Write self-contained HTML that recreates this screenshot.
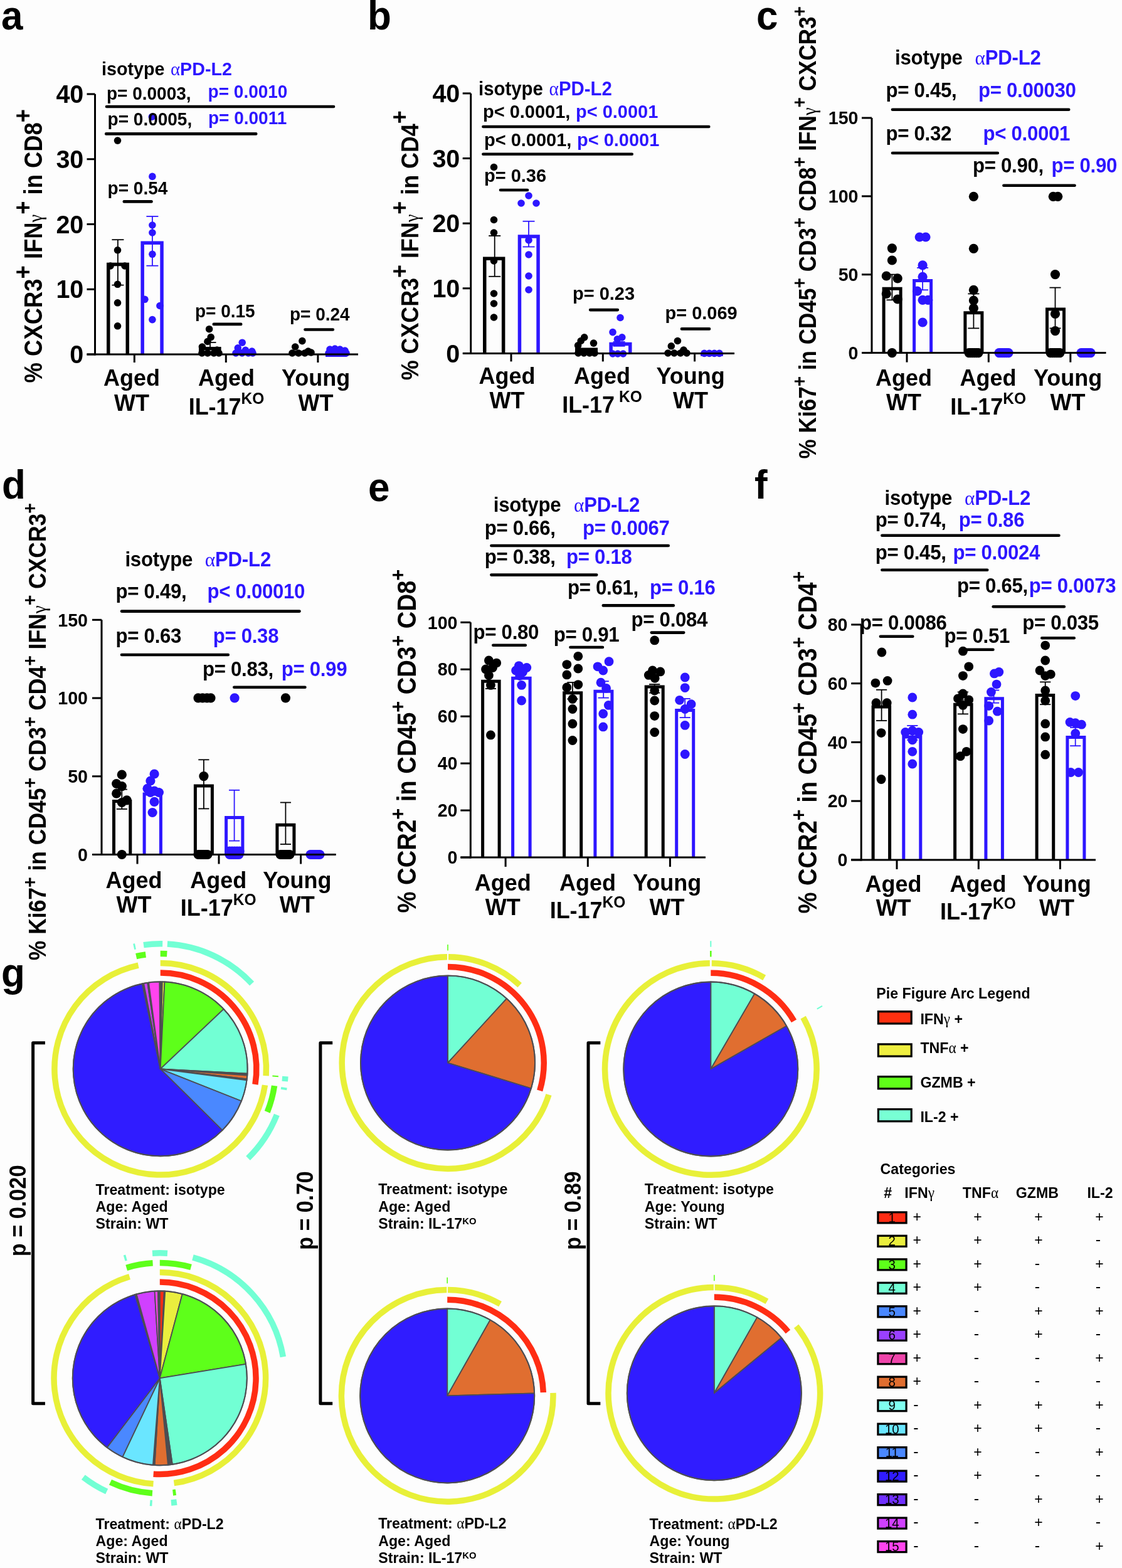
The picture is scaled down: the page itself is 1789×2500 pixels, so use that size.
<!DOCTYPE html>
<html><head><meta charset="utf-8"><title>Figure</title>
<style>html,body{margin:0;padding:0;background:#fdfdfd;} svg{display:block;} text{font-family:'Liberation Sans', Arial, sans-serif;}</style>
</head><body>
<svg width="1789" height="2500" viewBox="0 0 1789 2500">
<rect width="1789" height="2500" fill="#fdfdfd"/>
<path d="M172.75,565V421.46H203.25V565" fill="none" stroke="#000" stroke-width="5.5" stroke-linejoin="miter"/>
<path d="M227.15,565V387.23H258.05V565" fill="none" stroke="#2d16ff" stroke-width="5.5" stroke-linejoin="miter"/>
<path d="M319.75,565V555.72H349.85V565" fill="none" stroke="#000" stroke-width="5.5" stroke-linejoin="miter"/>
<path d="M374.75,565V563.08H402.25V565" fill="none" stroke="#2d16ff" stroke-width="5.5" stroke-linejoin="miter"/>
<path d="M464.75,565V562.04H496.25V565" fill="none" stroke="#000" stroke-width="5.5" stroke-linejoin="miter"/>
<path d="M521.75,565V566.19H550.25V565" fill="none" stroke="#2d16ff" stroke-width="5.5" stroke-linejoin="miter"/>
<circle cx="187.5" cy="224.1" r="5.8" fill="#000"/>
<circle cx="187.5" cy="398.8" r="5.8" fill="#000"/>
<circle cx="176" cy="424" r="5.8" fill="#000"/>
<circle cx="199" cy="424" r="5.8" fill="#000"/>
<circle cx="187.5" cy="453.3" r="5.8" fill="#000"/>
<circle cx="187.5" cy="482.8" r="5.8" fill="#000"/>
<circle cx="187.5" cy="519.8" r="5.8" fill="#000"/>
<circle cx="242.4" cy="186.2" r="5.8" fill="#2d16ff"/>
<circle cx="242.9" cy="281.4" r="5.8" fill="#2d16ff"/>
<circle cx="242.9" cy="359" r="5.8" fill="#2d16ff"/>
<circle cx="242.9" cy="371" r="5.8" fill="#2d16ff"/>
<circle cx="242.9" cy="405.3" r="5.8" fill="#2d16ff"/>
<circle cx="230.9" cy="477.3" r="5.8" fill="#2d16ff"/>
<circle cx="254.9" cy="487.5" r="5.8" fill="#2d16ff"/>
<circle cx="242.9" cy="509.6" r="5.8" fill="#2d16ff"/>
<circle cx="333.6" cy="524.7" r="5.8" fill="#000"/>
<circle cx="336.2" cy="537.6" r="5.8" fill="#000"/>
<circle cx="331" cy="544.5" r="5.8" fill="#000"/>
<circle cx="322.4" cy="553" r="5.8" fill="#000"/>
<circle cx="322" cy="563" r="5.8" fill="#000"/>
<circle cx="331" cy="563" r="5.8" fill="#000"/>
<circle cx="341" cy="563" r="5.8" fill="#000"/>
<circle cx="346" cy="558" r="5.8" fill="#000"/>
<circle cx="349" cy="563" r="5.8" fill="#000"/>
<circle cx="386.2" cy="546.2" r="5.8" fill="#2d16ff"/>
<circle cx="379.3" cy="554.8" r="5.8" fill="#2d16ff"/>
<circle cx="391.4" cy="558.3" r="5.8" fill="#2d16ff"/>
<circle cx="401.7" cy="560" r="5.8" fill="#2d16ff"/>
<circle cx="376" cy="563" r="5.8" fill="#2d16ff"/>
<circle cx="386" cy="563" r="5.8" fill="#2d16ff"/>
<circle cx="396" cy="563" r="5.8" fill="#2d16ff"/>
<circle cx="403" cy="563" r="5.8" fill="#2d16ff"/>
<circle cx="481.9" cy="543.6" r="5.8" fill="#000"/>
<circle cx="470.7" cy="553" r="5.8" fill="#000"/>
<circle cx="491.4" cy="560" r="5.8" fill="#000"/>
<circle cx="466" cy="563" r="5.8" fill="#000"/>
<circle cx="476" cy="563" r="5.8" fill="#000"/>
<circle cx="486" cy="563" r="5.8" fill="#000"/>
<circle cx="496" cy="562" r="5.8" fill="#000"/>
<circle cx="526" cy="557" r="5.8" fill="#2d16ff"/>
<circle cx="534" cy="556" r="5.8" fill="#2d16ff"/>
<circle cx="542" cy="557" r="5.8" fill="#2d16ff"/>
<circle cx="550" cy="559" r="5.8" fill="#2d16ff"/>
<circle cx="524" cy="563" r="5.8" fill="#2d16ff"/>
<circle cx="534" cy="563" r="5.8" fill="#2d16ff"/>
<circle cx="544" cy="563" r="5.8" fill="#2d16ff"/>
<circle cx="552" cy="563" r="5.8" fill="#2d16ff"/>
<line x1="187.9" y1="382.2" x2="187.9" y2="454.6" stroke="#000" stroke-width="1.8" stroke-linecap="butt"/>
<line x1="178.4" y1="382.2" x2="197.4" y2="382.2" stroke="#000" stroke-width="1.8" stroke-linecap="butt"/>
<line x1="178.4" y1="454.6" x2="197.4" y2="454.6" stroke="#000" stroke-width="1.8" stroke-linecap="butt"/>
<line x1="242.9" y1="345" x2="242.9" y2="423.7" stroke="#2d16ff" stroke-width="1.8" stroke-linecap="butt"/>
<line x1="233.4" y1="345" x2="252.4" y2="345" stroke="#2d16ff" stroke-width="1.8" stroke-linecap="butt"/>
<line x1="233.4" y1="423.7" x2="252.4" y2="423.7" stroke="#2d16ff" stroke-width="1.8" stroke-linecap="butt"/>
<line x1="335" y1="546" x2="335" y2="556" stroke="#000" stroke-width="1.8" stroke-linecap="butt"/>
<line x1="325.5" y1="546" x2="344.5" y2="546" stroke="#000" stroke-width="1.8" stroke-linecap="butt"/>
<line x1="325.5" y1="556" x2="344.5" y2="556" stroke="#000" stroke-width="1.8" stroke-linecap="butt"/>
<line x1="388.5" y1="558" x2="388.5" y2="562" stroke="#2d16ff" stroke-width="1.8" stroke-linecap="butt"/>
<line x1="379" y1="558" x2="398" y2="558" stroke="#2d16ff" stroke-width="1.8" stroke-linecap="butt"/>
<line x1="379" y1="562" x2="398" y2="562" stroke="#2d16ff" stroke-width="1.8" stroke-linecap="butt"/>
<line x1="151.5" y1="150" x2="151.5" y2="566.5" stroke="#000" stroke-width="3" stroke-linecap="butt"/>
<line x1="138.5" y1="565" x2="151.5" y2="565" stroke="#000" stroke-width="3" stroke-linecap="butt"/>
<text transform="translate(133.3,579.14) scale(1,1.045)" font-size="39.5" fill="#000" text-anchor="end" font-weight="bold" >0</text>
<line x1="138.5" y1="461.25" x2="151.5" y2="461.25" stroke="#000" stroke-width="3" stroke-linecap="butt"/>
<text transform="translate(133.3,475.39) scale(1,1.045)" font-size="39.5" fill="#000" text-anchor="end" font-weight="bold" >10</text>
<line x1="138.5" y1="357.5" x2="151.5" y2="357.5" stroke="#000" stroke-width="3" stroke-linecap="butt"/>
<text transform="translate(133.3,371.64) scale(1,1.045)" font-size="39.5" fill="#000" text-anchor="end" font-weight="bold" >20</text>
<line x1="138.5" y1="253.75" x2="151.5" y2="253.75" stroke="#000" stroke-width="3" stroke-linecap="butt"/>
<text transform="translate(133.3,267.89) scale(1,1.045)" font-size="39.5" fill="#000" text-anchor="end" font-weight="bold" >30</text>
<line x1="138.5" y1="150" x2="151.5" y2="150" stroke="#000" stroke-width="3" stroke-linecap="butt"/>
<text transform="translate(133.3,164.14) scale(1,1.045)" font-size="39.5" fill="#000" text-anchor="end" font-weight="bold" >40</text>
<line x1="138.5" y1="565" x2="571" y2="565" stroke="#000" stroke-width="3" stroke-linecap="butt"/>
<line x1="214.3" y1="565" x2="214.3" y2="578" stroke="#000" stroke-width="3" stroke-linecap="butt"/>
<line x1="360.3" y1="565" x2="360.3" y2="578" stroke="#000" stroke-width="3" stroke-linecap="butt"/>
<line x1="506.9" y1="565" x2="506.9" y2="578" stroke="#000" stroke-width="3" stroke-linecap="butt"/>
<text transform="translate(210,615) scale(1,1.045)" font-size="36" fill="#000" text-anchor="middle" font-weight="bold" >Aged</text>
<text transform="translate(210,654.6) scale(1,1.045)" font-size="36" fill="#000" text-anchor="middle" font-weight="bold" >WT</text>
<text transform="translate(361,615) scale(1,1.045)" font-size="36" fill="#000" text-anchor="middle" font-weight="bold" >Aged</text>
<text transform="translate(361,661) scale(1,1.045)" font-size="36" fill="#000" text-anchor="middle" font-weight="bold" >IL-17<tspan dx="0" dy="-16.2" font-size="24.5">KO</tspan></text>
<text transform="translate(503.5,615) scale(1,1.045)" font-size="36" fill="#000" text-anchor="middle" font-weight="bold" >Young</text>
<text transform="translate(503.5,654.6) scale(1,1.045)" font-size="36" fill="#000" text-anchor="middle" font-weight="bold" >WT</text>
<text transform="translate(170,159) scale(1,1.045)" font-size="28" fill="#000" text-anchor="start" font-weight="bold" letter-spacing="0">p= 0.0003,</text>
<text transform="translate(331.6,155.5) scale(1,1.045)" font-size="28" fill="#2d16ff" text-anchor="start" font-weight="bold" letter-spacing="0">p= 0.0010</text>
<text transform="translate(171.6,200.4) scale(1,1.045)" font-size="28" fill="#000" text-anchor="start" font-weight="bold" letter-spacing="0">p= 0.0005,</text>
<text transform="translate(332,198.2) scale(1,1.045)" font-size="28" fill="#2d16ff" text-anchor="start" font-weight="bold" letter-spacing="0">p= 0.0011</text>
<text transform="translate(171.6,310) scale(1,1.045)" font-size="28" fill="#000" text-anchor="start" font-weight="bold" letter-spacing="0">p= 0.54</text>
<text transform="translate(311,505.5) scale(1,1.045)" font-size="28" fill="#000" text-anchor="start" font-weight="bold" letter-spacing="0">p= 0.15</text>
<text transform="translate(462,510.5) scale(1,1.045)" font-size="28" fill="#000" text-anchor="start" font-weight="bold" letter-spacing="0">p= 0.24</text>
<line x1="170" y1="170" x2="532" y2="170" stroke="#000" stroke-width="4.6" stroke-linecap="round"/>
<line x1="169.2" y1="213.4" x2="408.2" y2="213.4" stroke="#000" stroke-width="4.6" stroke-linecap="round"/>
<line x1="197.8" y1="321.4" x2="241.5" y2="321.4" stroke="#000" stroke-width="4.6" stroke-linecap="round"/>
<line x1="340.8" y1="516.9" x2="384.2" y2="516.9" stroke="#000" stroke-width="4.6" stroke-linecap="round"/>
<line x1="486.5" y1="525.5" x2="530.8" y2="525.5" stroke="#000" stroke-width="4.6" stroke-linecap="round"/>
<text transform="translate(162,119.7) scale(1,1.045)" font-size="28.7" fill="#000" text-anchor="start" font-weight="bold" letter-spacing="0">isotype</text>
<text transform="translate(272,119.7) scale(1,1.045)" font-size="28.7" fill="#2d16ff" text-anchor="start" font-weight="bold" letter-spacing="0"><tspan font-family="'Liberation Serif', 'Times New Roman', serif" font-weight="normal">α</tspan>PD-L2</text>
<text transform="translate(67,610.4) rotate(-90) scale(1,1.045)" font-size="38.4" font-weight="bold" fill="#000" textLength="436.5" lengthAdjust="spacingAndGlyphs"><tspan letter-spacing="0"><tspan dy="-0.0">% CXCR3</tspan><tspan dy="-16.5" font-size="38.4">+</tspan><tspan dy="16.5" dx="0"> IFN</tspan><tspan dy="0.0" font-size="30.0" font-family="'Liberation Serif', 'Times New Roman', serif" font-weight="normal">γ</tspan><tspan dy="-16.5" font-size="38.4">+</tspan><tspan dy="16.5" dx="0"> in CD8</tspan><tspan dy="-16.5" font-size="38.4">+</tspan></tspan></text>
<text transform="translate(2,46.5) scale(1,1.045)" font-size="62" fill="#000" text-anchor="start" font-weight="bold" >a</text>
<path d="M772.75,563.4V412.15H802.65V563.4" fill="none" stroke="#000" stroke-width="5.5" stroke-linejoin="miter"/>
<path d="M828.45,563.4V377.05H858.05V563.4" fill="none" stroke="#2d16ff" stroke-width="5.5" stroke-linejoin="miter"/>
<path d="M919.75,563.4V557.25H950.25V563.4" fill="none" stroke="#000" stroke-width="5.5" stroke-linejoin="miter"/>
<path d="M974.15,563.4V548.45H1004.75V563.4" fill="none" stroke="#2d16ff" stroke-width="5.5" stroke-linejoin="miter"/>
<path d="M1065.75,563.4V562.45H1096.25V563.4" fill="none" stroke="#000" stroke-width="5.5" stroke-linejoin="miter"/>
<path d="M1119.75,563.4V565.11H1150.25V563.4" fill="none" stroke="#2d16ff" stroke-width="5.5" stroke-linejoin="miter"/>
<circle cx="787.5" cy="266.5" r="5.8" fill="#000"/>
<circle cx="787.5" cy="350.5" r="5.8" fill="#000"/>
<circle cx="787.5" cy="371" r="5.8" fill="#000"/>
<circle cx="787.5" cy="416" r="5.8" fill="#000"/>
<circle cx="787.5" cy="468" r="5.8" fill="#000"/>
<circle cx="787.5" cy="484" r="5.8" fill="#000"/>
<circle cx="787.5" cy="506" r="5.8" fill="#000"/>
<circle cx="843" cy="312" r="5.8" fill="#2d16ff"/>
<circle cx="831" cy="324" r="5.8" fill="#2d16ff"/>
<circle cx="855" cy="324" r="5.8" fill="#2d16ff"/>
<circle cx="843" cy="383" r="5.8" fill="#2d16ff"/>
<circle cx="843" cy="406" r="5.8" fill="#2d16ff"/>
<circle cx="843" cy="440" r="5.8" fill="#2d16ff"/>
<circle cx="843" cy="462" r="5.8" fill="#2d16ff"/>
<circle cx="931.7" cy="537.9" r="5.8" fill="#000"/>
<circle cx="926.2" cy="543.5" r="5.8" fill="#000"/>
<circle cx="946.5" cy="547.1" r="5.8" fill="#000"/>
<circle cx="921.6" cy="550.8" r="5.8" fill="#000"/>
<circle cx="922" cy="563" r="5.8" fill="#000"/>
<circle cx="931" cy="563" r="5.8" fill="#000"/>
<circle cx="940" cy="563" r="5.8" fill="#000"/>
<circle cx="948" cy="563" r="5.8" fill="#000"/>
<circle cx="989" cy="506.5" r="5.8" fill="#2d16ff"/>
<circle cx="977" cy="529.6" r="5.8" fill="#2d16ff"/>
<circle cx="991.8" cy="537.9" r="5.8" fill="#2d16ff"/>
<circle cx="984.4" cy="540.7" r="5.8" fill="#2d16ff"/>
<circle cx="977" cy="564" r="5.8" fill="#2d16ff"/>
<circle cx="985" cy="564" r="5.8" fill="#2d16ff"/>
<circle cx="993.6" cy="564" r="5.8" fill="#2d16ff"/>
<circle cx="1080.4" cy="543.5" r="5.8" fill="#000"/>
<circle cx="1070.3" cy="551.8" r="5.8" fill="#000"/>
<circle cx="1090" cy="558" r="5.8" fill="#000"/>
<circle cx="1065" cy="563" r="5.8" fill="#000"/>
<circle cx="1075" cy="563" r="5.8" fill="#000"/>
<circle cx="1085" cy="563" r="5.8" fill="#000"/>
<circle cx="1095" cy="563" r="5.8" fill="#000"/>
<circle cx="1123" cy="563.4" r="5.8" fill="#2d16ff"/>
<circle cx="1131" cy="563.4" r="5.8" fill="#2d16ff"/>
<circle cx="1139" cy="563.4" r="5.8" fill="#2d16ff"/>
<circle cx="1147" cy="563.4" r="5.8" fill="#2d16ff"/>
<line x1="788.7" y1="376" x2="788.7" y2="440.8" stroke="#000" stroke-width="1.8" stroke-linecap="butt"/>
<line x1="779.2" y1="376" x2="798.2" y2="376" stroke="#000" stroke-width="1.8" stroke-linecap="butt"/>
<line x1="779.2" y1="440.8" x2="798.2" y2="440.8" stroke="#000" stroke-width="1.8" stroke-linecap="butt"/>
<line x1="843" y1="352.8" x2="843" y2="393.5" stroke="#2d16ff" stroke-width="1.8" stroke-linecap="butt"/>
<line x1="833.5" y1="352.8" x2="852.5" y2="352.8" stroke="#2d16ff" stroke-width="1.8" stroke-linecap="butt"/>
<line x1="833.5" y1="393.5" x2="852.5" y2="393.5" stroke="#2d16ff" stroke-width="1.8" stroke-linecap="butt"/>
<line x1="987.1" y1="545" x2="987.1" y2="551.8" stroke="#2d16ff" stroke-width="1.8" stroke-linecap="butt"/>
<line x1="977.6" y1="545" x2="996.6" y2="545" stroke="#2d16ff" stroke-width="1.8" stroke-linecap="butt"/>
<line x1="977.6" y1="551.8" x2="996.6" y2="551.8" stroke="#2d16ff" stroke-width="1.8" stroke-linecap="butt"/>
<line x1="750.7" y1="148.9" x2="750.7" y2="564.9" stroke="#000" stroke-width="3" stroke-linecap="butt"/>
<line x1="737.7" y1="563.4" x2="750.7" y2="563.4" stroke="#000" stroke-width="3" stroke-linecap="butt"/>
<text transform="translate(733.3,577.54) scale(1,1.045)" font-size="39.5" fill="#000" text-anchor="end" font-weight="bold" >0</text>
<line x1="737.7" y1="459.77" x2="750.7" y2="459.77" stroke="#000" stroke-width="3" stroke-linecap="butt"/>
<text transform="translate(733.3,473.92) scale(1,1.045)" font-size="39.5" fill="#000" text-anchor="end" font-weight="bold" >10</text>
<line x1="737.7" y1="356.15" x2="750.7" y2="356.15" stroke="#000" stroke-width="3" stroke-linecap="butt"/>
<text transform="translate(733.3,370.29) scale(1,1.045)" font-size="39.5" fill="#000" text-anchor="end" font-weight="bold" >20</text>
<line x1="737.7" y1="252.52" x2="750.7" y2="252.52" stroke="#000" stroke-width="3" stroke-linecap="butt"/>
<text transform="translate(733.3,266.67) scale(1,1.045)" font-size="39.5" fill="#000" text-anchor="end" font-weight="bold" >30</text>
<line x1="737.7" y1="148.9" x2="750.7" y2="148.9" stroke="#000" stroke-width="3" stroke-linecap="butt"/>
<text transform="translate(733.3,163.04) scale(1,1.045)" font-size="39.5" fill="#000" text-anchor="end" font-weight="bold" >40</text>
<line x1="738.9" y1="563.4" x2="1171" y2="563.4" stroke="#000" stroke-width="3" stroke-linecap="butt"/>
<line x1="815" y1="563.4" x2="815" y2="576.4" stroke="#000" stroke-width="3" stroke-linecap="butt"/>
<line x1="961.3" y1="563.4" x2="961.3" y2="576.4" stroke="#000" stroke-width="3" stroke-linecap="butt"/>
<line x1="1107.6" y1="563.4" x2="1107.6" y2="576.4" stroke="#000" stroke-width="3" stroke-linecap="butt"/>
<text transform="translate(808.5,612) scale(1,1.045)" font-size="36" fill="#000" text-anchor="middle" font-weight="bold" >Aged</text>
<text transform="translate(808.5,651) scale(1,1.045)" font-size="36" fill="#000" text-anchor="middle" font-weight="bold" >WT</text>
<text transform="translate(960,612) scale(1,1.045)" font-size="36" fill="#000" text-anchor="middle" font-weight="bold" >Aged</text>
<text transform="translate(960,658) scale(1,1.045)" font-size="36" fill="#000" text-anchor="middle" font-weight="bold" >IL-17<tspan dx="7" dy="-16.2" font-size="24.5">KO</tspan></text>
<text transform="translate(1101,612) scale(1,1.045)" font-size="36" fill="#000" text-anchor="middle" font-weight="bold" >Young</text>
<text transform="translate(1101,651) scale(1,1.045)" font-size="36" fill="#000" text-anchor="middle" font-weight="bold" >WT</text>
<text transform="translate(770,188.4) scale(1,1.045)" font-size="29" fill="#000" text-anchor="start" font-weight="bold" letter-spacing="0">p&lt; 0.0001,</text>
<text transform="translate(918,188.4) scale(1,1.045)" font-size="29" fill="#2d16ff" text-anchor="start" font-weight="bold" letter-spacing="0">p&lt; 0.0001</text>
<text transform="translate(772,232.8) scale(1,1.045)" font-size="29" fill="#000" text-anchor="start" font-weight="bold" letter-spacing="0">p&lt; 0.0001,</text>
<text transform="translate(920,232.8) scale(1,1.045)" font-size="29" fill="#2d16ff" text-anchor="start" font-weight="bold" letter-spacing="0">p&lt; 0.0001</text>
<text transform="translate(772,290) scale(1,1.045)" font-size="29" fill="#000" text-anchor="start" font-weight="bold" letter-spacing="0">p= 0.36</text>
<text transform="translate(913,478.4) scale(1,1.045)" font-size="29" fill="#000" text-anchor="start" font-weight="bold" letter-spacing="0">p= 0.23</text>
<text transform="translate(1060.5,509) scale(1,1.045)" font-size="29" fill="#000" text-anchor="start" font-weight="bold" letter-spacing="0">p= 0.069</text>
<line x1="770.4" y1="202" x2="1130.3" y2="202" stroke="#000" stroke-width="4.6" stroke-linecap="round"/>
<line x1="770.4" y1="245.7" x2="1007.7" y2="245.7" stroke="#000" stroke-width="4.6" stroke-linecap="round"/>
<line x1="798" y1="303" x2="841" y2="303" stroke="#000" stroke-width="4.6" stroke-linecap="round"/>
<line x1="941.1" y1="494.1" x2="984.8" y2="494.1" stroke="#000" stroke-width="4.6" stroke-linecap="round"/>
<line x1="1087" y1="524.4" x2="1131" y2="524.4" stroke="#000" stroke-width="4.6" stroke-linecap="round"/>
<text transform="translate(763,151.5) scale(1,1.045)" font-size="29.4" fill="#000" text-anchor="start" font-weight="bold" letter-spacing="0">isotype</text>
<text transform="translate(875.5,151.5) scale(1,1.045)" font-size="29.4" fill="#2d16ff" text-anchor="start" font-weight="bold" letter-spacing="0"><tspan font-family="'Liberation Serif', 'Times New Roman', serif" font-weight="normal">α</tspan>PD-L2</text>
<text transform="translate(667.2,606.3) rotate(-90) scale(1,1.045)" font-size="37.5" font-weight="bold" fill="#000" textLength="430" lengthAdjust="spacingAndGlyphs"><tspan letter-spacing="0"><tspan dy="-0.0">% CXCR3</tspan><tspan dy="-16.1" font-size="37.5">+</tspan><tspan dy="16.1" dx="0"> IFN</tspan><tspan dy="0.0" font-size="30.0" font-family="'Liberation Serif', 'Times New Roman', serif" font-weight="normal">γ</tspan><tspan dy="-16.1" font-size="37.5">+</tspan><tspan dy="16.1" dx="0"> in CD4</tspan><tspan dy="-16.1" font-size="37.5">+</tspan></tspan></text>
<text transform="translate(586,47) scale(1,1.045)" font-size="62" fill="#000" text-anchor="start" font-weight="bold" >b</text>
<path d="M1409.1,562.6V460.3H1436.1V562.6" fill="none" stroke="#000" stroke-width="5" stroke-linejoin="miter"/>
<path d="M1457.6,562.6V447.5H1484.6V562.6" fill="none" stroke="#2d16ff" stroke-width="5" stroke-linejoin="miter"/>
<path d="M1538.9,562.6V498.8H1565.9V562.6" fill="none" stroke="#000" stroke-width="5" stroke-linejoin="miter"/>
<path d="M1669.5,562.6V493.1H1696.5V562.6" fill="none" stroke="#000" stroke-width="5" stroke-linejoin="miter"/>
<circle cx="1422.4" cy="395.8" r="7.6" fill="#000"/>
<circle cx="1422.4" cy="415" r="7.6" fill="#000"/>
<circle cx="1413.3" cy="440" r="7.6" fill="#000"/>
<circle cx="1431.2" cy="443.8" r="7.6" fill="#000"/>
<circle cx="1413.3" cy="468.4" r="7.6" fill="#000"/>
<circle cx="1431.2" cy="477" r="7.6" fill="#000"/>
<circle cx="1422.4" cy="562.6" r="7.6" fill="#000"/>
<circle cx="1466.2" cy="378" r="7.6" fill="#2d16ff"/>
<circle cx="1476" cy="378" r="7.6" fill="#2d16ff"/>
<circle cx="1471.1" cy="422.9" r="7.6" fill="#2d16ff"/>
<circle cx="1471.1" cy="441.3" r="7.6" fill="#2d16ff"/>
<circle cx="1462.5" cy="464.2" r="7.6" fill="#2d16ff"/>
<circle cx="1471.1" cy="478.3" r="7.6" fill="#2d16ff"/>
<circle cx="1479.8" cy="478.3" r="7.6" fill="#2d16ff"/>
<circle cx="1471.1" cy="514" r="7.6" fill="#2d16ff"/>
<circle cx="1552.4" cy="313.3" r="7.6" fill="#000"/>
<circle cx="1552.4" cy="396.3" r="7.6" fill="#000"/>
<circle cx="1552.4" cy="462.3" r="7.6" fill="#000"/>
<circle cx="1552.4" cy="479" r="7.6" fill="#000"/>
<circle cx="1552.4" cy="491.3" r="7.6" fill="#000"/>
<circle cx="1545" cy="562.6" r="7.6" fill="#000"/>
<circle cx="1548" cy="562.6" r="7.6" fill="#000"/>
<circle cx="1551" cy="562.6" r="7.6" fill="#000"/>
<circle cx="1554" cy="562.6" r="7.6" fill="#000"/>
<circle cx="1557" cy="562.6" r="7.6" fill="#000"/>
<circle cx="1560" cy="562.6" r="7.6" fill="#000"/>
<circle cx="1593" cy="562.6" r="7.6" fill="#2d16ff"/>
<circle cx="1596" cy="562.6" r="7.6" fill="#2d16ff"/>
<circle cx="1599" cy="562.6" r="7.6" fill="#2d16ff"/>
<circle cx="1602" cy="562.6" r="7.6" fill="#2d16ff"/>
<circle cx="1605" cy="562.6" r="7.6" fill="#2d16ff"/>
<circle cx="1608" cy="562.6" r="7.6" fill="#2d16ff"/>
<circle cx="1679.3" cy="313.3" r="7.6" fill="#000"/>
<circle cx="1686.7" cy="313.3" r="7.6" fill="#000"/>
<circle cx="1682.5" cy="437.6" r="7.6" fill="#000"/>
<circle cx="1682.5" cy="500.4" r="7.6" fill="#000"/>
<circle cx="1682.5" cy="527.6" r="7.6" fill="#000"/>
<circle cx="1675" cy="562.6" r="7.6" fill="#000"/>
<circle cx="1678" cy="562.6" r="7.6" fill="#000"/>
<circle cx="1681" cy="562.6" r="7.6" fill="#000"/>
<circle cx="1684" cy="562.6" r="7.6" fill="#000"/>
<circle cx="1687" cy="562.6" r="7.6" fill="#000"/>
<circle cx="1690" cy="562.6" r="7.6" fill="#000"/>
<circle cx="1724" cy="562.6" r="7.6" fill="#2d16ff"/>
<circle cx="1727" cy="562.6" r="7.6" fill="#2d16ff"/>
<circle cx="1730" cy="562.6" r="7.6" fill="#2d16ff"/>
<circle cx="1733" cy="562.6" r="7.6" fill="#2d16ff"/>
<circle cx="1736" cy="562.6" r="7.6" fill="#2d16ff"/>
<circle cx="1739" cy="562.6" r="7.6" fill="#2d16ff"/>
<line x1="1422.4" y1="437.6" x2="1422.4" y2="478.3" stroke="#000" stroke-width="1.8" stroke-linecap="butt"/>
<line x1="1413.4" y1="437.6" x2="1431.4" y2="437.6" stroke="#000" stroke-width="1.8" stroke-linecap="butt"/>
<line x1="1413.4" y1="478.3" x2="1431.4" y2="478.3" stroke="#000" stroke-width="1.8" stroke-linecap="butt"/>
<line x1="1471.1" y1="427" x2="1471.1" y2="462.3" stroke="#2d16ff" stroke-width="1.8" stroke-linecap="butt"/>
<line x1="1462.1" y1="427" x2="1480.1" y2="427" stroke="#2d16ff" stroke-width="1.8" stroke-linecap="butt"/>
<line x1="1462.1" y1="462.3" x2="1480.1" y2="462.3" stroke="#2d16ff" stroke-width="1.8" stroke-linecap="butt"/>
<line x1="1552.4" y1="468.4" x2="1552.4" y2="523.4" stroke="#000" stroke-width="1.8" stroke-linecap="butt"/>
<line x1="1543.4" y1="468.4" x2="1561.4" y2="468.4" stroke="#000" stroke-width="1.8" stroke-linecap="butt"/>
<line x1="1543.4" y1="523.4" x2="1561.4" y2="523.4" stroke="#000" stroke-width="1.8" stroke-linecap="butt"/>
<line x1="1682.5" y1="458.6" x2="1682.5" y2="523.4" stroke="#000" stroke-width="1.8" stroke-linecap="butt"/>
<line x1="1673.5" y1="458.6" x2="1691.5" y2="458.6" stroke="#000" stroke-width="1.8" stroke-linecap="butt"/>
<line x1="1673.5" y1="523.4" x2="1691.5" y2="523.4" stroke="#000" stroke-width="1.8" stroke-linecap="butt"/>
<line x1="1390" y1="188" x2="1390" y2="564.1" stroke="#000" stroke-width="3" stroke-linecap="butt"/>
<line x1="1374" y1="562.6" x2="1390" y2="562.6" stroke="#000" stroke-width="3" stroke-linecap="butt"/>
<text transform="translate(1368.5,572.84) scale(1,1.045)" font-size="28.6" fill="#000" text-anchor="end" font-weight="bold" >0</text>
<line x1="1374" y1="437.73" x2="1390" y2="437.73" stroke="#000" stroke-width="3" stroke-linecap="butt"/>
<text transform="translate(1368.5,447.97) scale(1,1.045)" font-size="28.6" fill="#000" text-anchor="end" font-weight="bold" >50</text>
<line x1="1374" y1="312.87" x2="1390" y2="312.87" stroke="#000" stroke-width="3" stroke-linecap="butt"/>
<text transform="translate(1368.5,323.11) scale(1,1.045)" font-size="28.6" fill="#000" text-anchor="end" font-weight="bold" >100</text>
<line x1="1374" y1="188" x2="1390" y2="188" stroke="#000" stroke-width="3" stroke-linecap="butt"/>
<text transform="translate(1368.5,198.24) scale(1,1.045)" font-size="28.6" fill="#000" text-anchor="end" font-weight="bold" >150</text>
<line x1="1374" y1="562.6" x2="1763.5" y2="562.6" stroke="#000" stroke-width="3" stroke-linecap="butt"/>
<line x1="1446" y1="562.6" x2="1446" y2="577.6" stroke="#000" stroke-width="3" stroke-linecap="butt"/>
<line x1="1576.3" y1="562.6" x2="1576.3" y2="577.6" stroke="#000" stroke-width="3" stroke-linecap="butt"/>
<line x1="1706.8" y1="562.6" x2="1706.8" y2="577.6" stroke="#000" stroke-width="3" stroke-linecap="butt"/>
<text transform="translate(1441,615) scale(1,1.045)" font-size="36" fill="#000" text-anchor="middle" font-weight="bold" >Aged</text>
<text transform="translate(1441,654) scale(1,1.045)" font-size="36" fill="#000" text-anchor="middle" font-weight="bold" >WT</text>
<text transform="translate(1575.6,615) scale(1,1.045)" font-size="36" fill="#000" text-anchor="middle" font-weight="bold" >Aged</text>
<text transform="translate(1575.6,661) scale(1,1.045)" font-size="36" fill="#000" text-anchor="middle" font-weight="bold" >IL-17<tspan dx="0" dy="-16.2" font-size="24.5">KO</tspan></text>
<text transform="translate(1702.5,615) scale(1,1.045)" font-size="36" fill="#000" text-anchor="middle" font-weight="bold" >Young</text>
<text transform="translate(1702.5,654) scale(1,1.045)" font-size="36" fill="#000" text-anchor="middle" font-weight="bold" >WT</text>
<text transform="translate(1412.5,155) scale(1,1.045)" font-size="31.2" fill="#000" text-anchor="start" font-weight="bold" letter-spacing="-0.3">p= 0.45,</text>
<text transform="translate(1560,155) scale(1,1.045)" font-size="31.2" fill="#2d16ff" text-anchor="start" font-weight="bold" letter-spacing="-0.3">p= 0.00030</text>
<text transform="translate(1412.5,224) scale(1,1.045)" font-size="31.2" fill="#000" text-anchor="start" font-weight="bold" letter-spacing="-0.3">p= 0.32</text>
<text transform="translate(1567.5,224) scale(1,1.045)" font-size="31.2" fill="#2d16ff" text-anchor="start" font-weight="bold" letter-spacing="-0.3">p&lt; 0.0001</text>
<text transform="translate(1551,275) scale(1,1.045)" font-size="31.2" fill="#000" text-anchor="start" font-weight="bold" letter-spacing="-0.3">p= 0.90,</text>
<text transform="translate(1676.5,275) scale(1,1.045)" font-size="31.2" fill="#2d16ff" text-anchor="start" font-weight="bold" letter-spacing="-0.3">p= 0.90</text>
<line x1="1423" y1="174.8" x2="1704.2" y2="174.8" stroke="#000" stroke-width="4.6" stroke-linecap="round"/>
<line x1="1423" y1="244" x2="1590.8" y2="244" stroke="#000" stroke-width="4.6" stroke-linecap="round"/>
<line x1="1600.4" y1="295.8" x2="1713.5" y2="295.8" stroke="#000" stroke-width="4.6" stroke-linecap="round"/>
<text transform="translate(1427,103.4) scale(1,1.045)" font-size="31.2" fill="#000" text-anchor="start" font-weight="bold" letter-spacing="-0.2">isotype</text>
<text transform="translate(1554.5,103.4) scale(1,1.045)" font-size="31.2" fill="#2d16ff" text-anchor="start" font-weight="bold" letter-spacing="-0.2"><tspan font-family="'Liberation Serif', 'Times New Roman', serif" font-weight="normal">α</tspan>PD-L2</text>
<text transform="translate(1300.8,731.4) rotate(-90) scale(1,1.045)" font-size="37" font-weight="bold" fill="#000" textLength="721.4" lengthAdjust="spacingAndGlyphs"><tspan letter-spacing="0"><tspan dy="-0.0">% Ki67</tspan><tspan dy="-14.8" font-size="29.6">+</tspan><tspan dy="14.8" dx="0"> in CD45</tspan><tspan dy="-14.8" font-size="29.6">+</tspan><tspan dy="14.8" dx="0"> CD3</tspan><tspan dy="-14.8" font-size="29.6">+</tspan><tspan dy="14.8" dx="0"> CD8</tspan><tspan dy="-14.8" font-size="29.6">+</tspan><tspan dy="14.8" dx="0"> IFN</tspan><tspan dy="0.0" font-size="30.0" font-family="'Liberation Serif', 'Times New Roman', serif" font-weight="normal">γ</tspan><tspan dy="-14.8" font-size="29.6">+</tspan><tspan dy="14.8" dx="0"> CXCR3</tspan><tspan dy="-14.8" font-size="29.6">+</tspan></tspan></text>
<text transform="translate(1206,46.5) scale(1,1.045)" font-size="62" fill="#000" text-anchor="start" font-weight="bold" >c</text>
<path d="M181.5,1362.5V1277.6H207.8V1362.5" fill="none" stroke="#000" stroke-width="5" stroke-linejoin="miter"/>
<path d="M230.1,1362.5V1266H256.4V1362.5" fill="none" stroke="#2d16ff" stroke-width="5" stroke-linejoin="miter"/>
<path d="M311.4,1362.5V1252.9H338.4V1362.5" fill="none" stroke="#000" stroke-width="5" stroke-linejoin="miter"/>
<path d="M360.6,1362.5V1303.4H386.9V1362.5" fill="none" stroke="#2d16ff" stroke-width="5" stroke-linejoin="miter"/>
<path d="M441.9,1362.5V1315.3H468.9V1362.5" fill="none" stroke="#000" stroke-width="5" stroke-linejoin="miter"/>
<circle cx="194.3" cy="1235.2" r="7.6" fill="#000"/>
<circle cx="185.7" cy="1249.5" r="7.6" fill="#000"/>
<circle cx="194.3" cy="1253.6" r="7.6" fill="#000"/>
<circle cx="185.7" cy="1265.2" r="7.6" fill="#000"/>
<circle cx="202.2" cy="1275.8" r="7.6" fill="#000"/>
<circle cx="194.3" cy="1279.5" r="7.6" fill="#000"/>
<circle cx="194.3" cy="1362.5" r="7.6" fill="#000"/>
<circle cx="246.1" cy="1234" r="7.6" fill="#2d16ff"/>
<circle cx="239.9" cy="1245" r="7.6" fill="#2d16ff"/>
<circle cx="235" cy="1257.3" r="7.6" fill="#2d16ff"/>
<circle cx="246.1" cy="1261" r="7.6" fill="#2d16ff"/>
<circle cx="253.4" cy="1263.5" r="7.6" fill="#2d16ff"/>
<circle cx="239.9" cy="1263.5" r="7.6" fill="#2d16ff"/>
<circle cx="246.1" cy="1278.3" r="7.6" fill="#2d16ff"/>
<circle cx="243.1" cy="1295.5" r="7.6" fill="#2d16ff"/>
<circle cx="316" cy="1112.8" r="7.6" fill="#000"/>
<circle cx="323" cy="1112.8" r="7.6" fill="#000"/>
<circle cx="330" cy="1112.8" r="7.6" fill="#000"/>
<circle cx="336" cy="1112.8" r="7.6" fill="#000"/>
<circle cx="324.9" cy="1237.6" r="7.6" fill="#000"/>
<circle cx="316" cy="1362.5" r="7.6" fill="#000"/>
<circle cx="319" cy="1362.5" r="7.6" fill="#000"/>
<circle cx="322" cy="1362.5" r="7.6" fill="#000"/>
<circle cx="325" cy="1362.5" r="7.6" fill="#000"/>
<circle cx="328" cy="1362.5" r="7.6" fill="#000"/>
<circle cx="331" cy="1362.5" r="7.6" fill="#000"/>
<circle cx="374.1" cy="1112.8" r="7.6" fill="#2d16ff"/>
<circle cx="366" cy="1362.5" r="7.6" fill="#2d16ff"/>
<circle cx="369" cy="1362.5" r="7.6" fill="#2d16ff"/>
<circle cx="372" cy="1362.5" r="7.6" fill="#2d16ff"/>
<circle cx="375" cy="1362.5" r="7.6" fill="#2d16ff"/>
<circle cx="378" cy="1362.5" r="7.6" fill="#2d16ff"/>
<circle cx="381" cy="1362.5" r="7.6" fill="#2d16ff"/>
<circle cx="366" cy="1357" r="7.6" fill="#2d16ff"/>
<circle cx="370" cy="1357" r="7.6" fill="#2d16ff"/>
<circle cx="374" cy="1357" r="7.6" fill="#2d16ff"/>
<circle cx="378" cy="1357" r="7.6" fill="#2d16ff"/>
<circle cx="382" cy="1357" r="7.6" fill="#2d16ff"/>
<circle cx="455.4" cy="1112.8" r="7.6" fill="#000"/>
<circle cx="447" cy="1362.5" r="7.6" fill="#000"/>
<circle cx="450" cy="1362.5" r="7.6" fill="#000"/>
<circle cx="453" cy="1362.5" r="7.6" fill="#000"/>
<circle cx="456" cy="1362.5" r="7.6" fill="#000"/>
<circle cx="459" cy="1362.5" r="7.6" fill="#000"/>
<circle cx="462" cy="1362.5" r="7.6" fill="#000"/>
<circle cx="495" cy="1362.5" r="7.6" fill="#2d16ff"/>
<circle cx="498" cy="1362.5" r="7.6" fill="#2d16ff"/>
<circle cx="501" cy="1362.5" r="7.6" fill="#2d16ff"/>
<circle cx="504" cy="1362.5" r="7.6" fill="#2d16ff"/>
<circle cx="507" cy="1362.5" r="7.6" fill="#2d16ff"/>
<circle cx="510" cy="1362.5" r="7.6" fill="#2d16ff"/>
<line x1="194.3" y1="1258.6" x2="194.3" y2="1289.9" stroke="#000" stroke-width="1.8" stroke-linecap="butt"/>
<line x1="185.7" y1="1258.6" x2="202.9" y2="1258.6" stroke="#000" stroke-width="1.8" stroke-linecap="butt"/>
<line x1="185.7" y1="1289.9" x2="202.9" y2="1289.9" stroke="#000" stroke-width="1.8" stroke-linecap="butt"/>
<line x1="324.9" y1="1211.3" x2="324.9" y2="1289.4" stroke="#000" stroke-width="1.8" stroke-linecap="butt"/>
<line x1="316.3" y1="1211.3" x2="333.5" y2="1211.3" stroke="#000" stroke-width="1.8" stroke-linecap="butt"/>
<line x1="316.3" y1="1289.4" x2="333.5" y2="1289.4" stroke="#000" stroke-width="1.8" stroke-linecap="butt"/>
<line x1="373.6" y1="1259.8" x2="373.6" y2="1340.6" stroke="#2d16ff" stroke-width="1.8" stroke-linecap="butt"/>
<line x1="365" y1="1259.8" x2="382.2" y2="1259.8" stroke="#2d16ff" stroke-width="1.8" stroke-linecap="butt"/>
<line x1="365" y1="1340.6" x2="382.2" y2="1340.6" stroke="#2d16ff" stroke-width="1.8" stroke-linecap="butt"/>
<line x1="455.4" y1="1279.5" x2="455.4" y2="1346" stroke="#000" stroke-width="1.8" stroke-linecap="butt"/>
<line x1="446.8" y1="1279.5" x2="464" y2="1279.5" stroke="#000" stroke-width="1.8" stroke-linecap="butt"/>
<line x1="446.8" y1="1346" x2="464" y2="1346" stroke="#000" stroke-width="1.8" stroke-linecap="butt"/>
<line x1="162" y1="988.3" x2="162" y2="1364" stroke="#000" stroke-width="3" stroke-linecap="butt"/>
<line x1="147" y1="1362.5" x2="162" y2="1362.5" stroke="#000" stroke-width="3" stroke-linecap="butt"/>
<text transform="translate(140,1372.74) scale(1,1.045)" font-size="28.6" fill="#000" text-anchor="end" font-weight="bold" >0</text>
<line x1="147" y1="1237.77" x2="162" y2="1237.77" stroke="#000" stroke-width="3" stroke-linecap="butt"/>
<text transform="translate(140,1248.01) scale(1,1.045)" font-size="28.6" fill="#000" text-anchor="end" font-weight="bold" >50</text>
<line x1="147" y1="1113.03" x2="162" y2="1113.03" stroke="#000" stroke-width="3" stroke-linecap="butt"/>
<text transform="translate(140,1123.27) scale(1,1.045)" font-size="28.6" fill="#000" text-anchor="end" font-weight="bold" >100</text>
<line x1="147" y1="988.3" x2="162" y2="988.3" stroke="#000" stroke-width="3" stroke-linecap="butt"/>
<text transform="translate(140,998.54) scale(1,1.045)" font-size="28.6" fill="#000" text-anchor="end" font-weight="bold" >150</text>
<line x1="147.8" y1="1362.5" x2="535.7" y2="1362.5" stroke="#000" stroke-width="3" stroke-linecap="butt"/>
<line x1="219" y1="1362.5" x2="219" y2="1377.5" stroke="#000" stroke-width="3" stroke-linecap="butt"/>
<line x1="349" y1="1362.5" x2="349" y2="1377.5" stroke="#000" stroke-width="3" stroke-linecap="butt"/>
<line x1="479.6" y1="1362.5" x2="479.6" y2="1377.5" stroke="#000" stroke-width="3" stroke-linecap="butt"/>
<text transform="translate(213.4,1416.1) scale(1,1.045)" font-size="36" fill="#000" text-anchor="middle" font-weight="bold" >Aged</text>
<text transform="translate(213.4,1454.9) scale(1,1.045)" font-size="36" fill="#000" text-anchor="middle" font-weight="bold" >WT</text>
<text transform="translate(348.2,1416.1) scale(1,1.045)" font-size="36" fill="#000" text-anchor="middle" font-weight="bold" >Aged</text>
<text transform="translate(348.2,1460.4) scale(1,1.045)" font-size="36" fill="#000" text-anchor="middle" font-weight="bold" >IL-17<tspan dx="0" dy="-16.2" font-size="24.5">KO</tspan></text>
<text transform="translate(473.8,1416.1) scale(1,1.045)" font-size="36" fill="#000" text-anchor="middle" font-weight="bold" >Young</text>
<text transform="translate(473.8,1454.9) scale(1,1.045)" font-size="36" fill="#000" text-anchor="middle" font-weight="bold" >WT</text>
<text transform="translate(184.6,954.3) scale(1,1.045)" font-size="31.2" fill="#000" text-anchor="start" font-weight="bold" letter-spacing="-0.3">p= 0.49,</text>
<text transform="translate(330.5,954.3) scale(1,1.045)" font-size="31.2" fill="#2d16ff" text-anchor="start" font-weight="bold" letter-spacing="-0.3">p&lt; 0.00010</text>
<text transform="translate(184.6,1024.5) scale(1,1.045)" font-size="31.2" fill="#000" text-anchor="start" font-weight="bold" letter-spacing="-0.3">p= 0.63</text>
<text transform="translate(339.7,1024.5) scale(1,1.045)" font-size="31.2" fill="#2d16ff" text-anchor="start" font-weight="bold" letter-spacing="-0.3">p= 0.38</text>
<text transform="translate(323,1078) scale(1,1.045)" font-size="31.2" fill="#000" text-anchor="start" font-weight="bold" letter-spacing="-0.3">p= 0.83,</text>
<text transform="translate(448.7,1078) scale(1,1.045)" font-size="31.2" fill="#2d16ff" text-anchor="start" font-weight="bold" letter-spacing="-0.3">p= 0.99</text>
<line x1="194" y1="974.6" x2="477.5" y2="974.6" stroke="#000" stroke-width="4.6" stroke-linecap="round"/>
<line x1="194" y1="1044" x2="363.8" y2="1044" stroke="#000" stroke-width="4.6" stroke-linecap="round"/>
<line x1="373.3" y1="1095.8" x2="486.4" y2="1095.8" stroke="#000" stroke-width="4.6" stroke-linecap="round"/>
<text transform="translate(199.4,902.6) scale(1,1.045)" font-size="31.2" fill="#000" text-anchor="start" font-weight="bold" letter-spacing="-0.2">isotype</text>
<text transform="translate(326.8,902.6) scale(1,1.045)" font-size="31.2" fill="#2d16ff" text-anchor="start" font-weight="bold" letter-spacing="-0.2"><tspan font-family="'Liberation Serif', 'Times New Roman', serif" font-weight="normal">α</tspan>PD-L2</text>
<text transform="translate(73,1531.2) rotate(-90) scale(1,1.045)" font-size="36.5" font-weight="bold" fill="#000" textLength="729" lengthAdjust="spacingAndGlyphs"><tspan letter-spacing="0"><tspan dy="-0.0">% Ki67</tspan><tspan dy="-14.6" font-size="29.2">+</tspan><tspan dy="14.6" dx="0"> in CD45</tspan><tspan dy="-14.6" font-size="29.2">+</tspan><tspan dy="14.6" dx="0"> CD3</tspan><tspan dy="-14.6" font-size="29.2">+</tspan><tspan dy="14.6" dx="0"> CD4</tspan><tspan dy="-14.6" font-size="29.2">+</tspan><tspan dy="14.6" dx="0"> IFN</tspan><tspan dy="0.0" font-size="30.0" font-family="'Liberation Serif', 'Times New Roman', serif" font-weight="normal">γ</tspan><tspan dy="-14.6" font-size="29.2">+</tspan><tspan dy="14.6" dx="0"> CXCR3</tspan><tspan dy="-14.6" font-size="29.2">+</tspan></tspan></text>
<text transform="translate(3,795) scale(1,1.045)" font-size="62" fill="#000" text-anchor="start" font-weight="bold" >d</text>
<path d="M769.6,1367V1086.2H796.1V1367" fill="none" stroke="#000" stroke-width="5" stroke-linejoin="miter"/>
<path d="M817.6,1367V1081.3H845.1V1367" fill="none" stroke="#2d16ff" stroke-width="5" stroke-linejoin="miter"/>
<path d="M899.6,1367V1104.7H926.7V1367" fill="none" stroke="#000" stroke-width="5" stroke-linejoin="miter"/>
<path d="M948.9,1367V1102.3H975.9V1367" fill="none" stroke="#2d16ff" stroke-width="5" stroke-linejoin="miter"/>
<path d="M1030.2,1367V1094.9H1057.2V1367" fill="none" stroke="#000" stroke-width="5" stroke-linejoin="miter"/>
<path d="M1078.7,1367V1132.5H1105.7V1367" fill="none" stroke="#2d16ff" stroke-width="5" stroke-linejoin="miter"/>
<circle cx="779.4" cy="1053" r="7.4" fill="#000"/>
<circle cx="791.7" cy="1057.1" r="7.4" fill="#000"/>
<circle cx="774.5" cy="1067" r="7.4" fill="#000"/>
<circle cx="785.6" cy="1064.5" r="7.4" fill="#000"/>
<circle cx="779.4" cy="1076.8" r="7.4" fill="#000"/>
<circle cx="782.4" cy="1092.4" r="7.4" fill="#000"/>
<circle cx="782.4" cy="1171.9" r="7.4" fill="#000"/>
<circle cx="827.4" cy="1061.6" r="7.4" fill="#2d16ff"/>
<circle cx="839.8" cy="1064.5" r="7.4" fill="#2d16ff"/>
<circle cx="822.5" cy="1069" r="7.4" fill="#2d16ff"/>
<circle cx="833.6" cy="1071.4" r="7.4" fill="#2d16ff"/>
<circle cx="828.7" cy="1077.6" r="7.4" fill="#2d16ff"/>
<circle cx="831.6" cy="1092.4" r="7.4" fill="#2d16ff"/>
<circle cx="831.6" cy="1117" r="7.4" fill="#2d16ff"/>
<circle cx="921.8" cy="1046.3" r="7.4" fill="#000"/>
<circle cx="903.8" cy="1059.6" r="7.4" fill="#000"/>
<circle cx="921.8" cy="1066" r="7.4" fill="#000"/>
<circle cx="903.8" cy="1075.9" r="7.4" fill="#000"/>
<circle cx="921.8" cy="1091.6" r="7.4" fill="#000"/>
<circle cx="903.8" cy="1096" r="7.4" fill="#000"/>
<circle cx="912.9" cy="1114.5" r="7.4" fill="#000"/>
<circle cx="912.9" cy="1130.5" r="7.4" fill="#000"/>
<circle cx="912.9" cy="1154" r="7.4" fill="#000"/>
<circle cx="912.9" cy="1180.5" r="7.4" fill="#000"/>
<circle cx="971" cy="1054.7" r="7.4" fill="#2d16ff"/>
<circle cx="953" cy="1062.8" r="7.4" fill="#2d16ff"/>
<circle cx="961.7" cy="1069" r="7.4" fill="#2d16ff"/>
<circle cx="958" cy="1088.2" r="7.4" fill="#2d16ff"/>
<circle cx="966.6" cy="1097.3" r="7.4" fill="#2d16ff"/>
<circle cx="970.3" cy="1124.4" r="7.4" fill="#2d16ff"/>
<circle cx="961.7" cy="1138" r="7.4" fill="#2d16ff"/>
<circle cx="961.7" cy="1158.9" r="7.4" fill="#2d16ff"/>
<circle cx="1043.7" cy="1020.9" r="7.4" fill="#000"/>
<circle cx="1040.5" cy="1069" r="7.4" fill="#000"/>
<circle cx="1052.8" cy="1070.9" r="7.4" fill="#000"/>
<circle cx="1034.3" cy="1076.4" r="7.4" fill="#000"/>
<circle cx="1044.2" cy="1081.3" r="7.4" fill="#000"/>
<circle cx="1043.7" cy="1101" r="7.4" fill="#000"/>
<circle cx="1043.7" cy="1117" r="7.4" fill="#000"/>
<circle cx="1043.7" cy="1141.6" r="7.4" fill="#000"/>
<circle cx="1043.7" cy="1167.5" r="7.4" fill="#000"/>
<circle cx="1092.2" cy="1080" r="7.4" fill="#2d16ff"/>
<circle cx="1092.2" cy="1096.6" r="7.4" fill="#2d16ff"/>
<circle cx="1083.6" cy="1116.3" r="7.4" fill="#2d16ff"/>
<circle cx="1102.1" cy="1122.7" r="7.4" fill="#2d16ff"/>
<circle cx="1092.2" cy="1130.5" r="7.4" fill="#2d16ff"/>
<circle cx="1092.2" cy="1156.4" r="7.4" fill="#2d16ff"/>
<circle cx="1092.2" cy="1202.5" r="7.4" fill="#2d16ff"/>
<line x1="782.4" y1="1087" x2="782.4" y2="1098" stroke="#000" stroke-width="1.8" stroke-linecap="butt"/>
<line x1="773.8" y1="1087" x2="791" y2="1087" stroke="#000" stroke-width="1.8" stroke-linecap="butt"/>
<line x1="773.8" y1="1098" x2="791" y2="1098" stroke="#000" stroke-width="1.8" stroke-linecap="butt"/>
<line x1="912.9" y1="1088" x2="912.9" y2="1114.5" stroke="#000" stroke-width="1.8" stroke-linecap="butt"/>
<line x1="904.3" y1="1088" x2="921.5" y2="1088" stroke="#000" stroke-width="1.8" stroke-linecap="butt"/>
<line x1="904.3" y1="1114.5" x2="921.5" y2="1114.5" stroke="#000" stroke-width="1.8" stroke-linecap="butt"/>
<line x1="962.2" y1="1086.2" x2="962.2" y2="1112.6" stroke="#2d16ff" stroke-width="1.8" stroke-linecap="butt"/>
<line x1="953.6" y1="1086.2" x2="970.8" y2="1086.2" stroke="#2d16ff" stroke-width="1.8" stroke-linecap="butt"/>
<line x1="953.6" y1="1112.6" x2="970.8" y2="1112.6" stroke="#2d16ff" stroke-width="1.8" stroke-linecap="butt"/>
<line x1="1043.7" y1="1091" x2="1043.7" y2="1104.7" stroke="#000" stroke-width="1.8" stroke-linecap="butt"/>
<line x1="1035.1" y1="1091" x2="1052.3" y2="1091" stroke="#000" stroke-width="1.8" stroke-linecap="butt"/>
<line x1="1035.1" y1="1104.7" x2="1052.3" y2="1104.7" stroke="#000" stroke-width="1.8" stroke-linecap="butt"/>
<line x1="1092.2" y1="1114" x2="1092.2" y2="1144.1" stroke="#2d16ff" stroke-width="1.8" stroke-linecap="butt"/>
<line x1="1083.6" y1="1114" x2="1100.8" y2="1114" stroke="#2d16ff" stroke-width="1.8" stroke-linecap="butt"/>
<line x1="1083.6" y1="1144.1" x2="1100.8" y2="1144.1" stroke="#2d16ff" stroke-width="1.8" stroke-linecap="butt"/>
<line x1="750.3" y1="992.3" x2="750.3" y2="1368.5" stroke="#000" stroke-width="3" stroke-linecap="butt"/>
<line x1="734.3" y1="1367" x2="750.3" y2="1367" stroke="#000" stroke-width="3" stroke-linecap="butt"/>
<text transform="translate(729.5,1377.24) scale(1,1.045)" font-size="28.6" fill="#000" text-anchor="end" font-weight="bold" >0</text>
<line x1="734.3" y1="1292.06" x2="750.3" y2="1292.06" stroke="#000" stroke-width="3" stroke-linecap="butt"/>
<text transform="translate(729.5,1302.3) scale(1,1.045)" font-size="28.6" fill="#000" text-anchor="end" font-weight="bold" >20</text>
<line x1="734.3" y1="1217.12" x2="750.3" y2="1217.12" stroke="#000" stroke-width="3" stroke-linecap="butt"/>
<text transform="translate(729.5,1227.36) scale(1,1.045)" font-size="28.6" fill="#000" text-anchor="end" font-weight="bold" >40</text>
<line x1="734.3" y1="1142.18" x2="750.3" y2="1142.18" stroke="#000" stroke-width="3" stroke-linecap="butt"/>
<text transform="translate(729.5,1152.42) scale(1,1.045)" font-size="28.6" fill="#000" text-anchor="end" font-weight="bold" >60</text>
<line x1="734.3" y1="1067.24" x2="750.3" y2="1067.24" stroke="#000" stroke-width="3" stroke-linecap="butt"/>
<text transform="translate(729.5,1077.48) scale(1,1.045)" font-size="28.6" fill="#000" text-anchor="end" font-weight="bold" >80</text>
<line x1="734.3" y1="992.3" x2="750.3" y2="992.3" stroke="#000" stroke-width="3" stroke-linecap="butt"/>
<text transform="translate(729.5,1002.54) scale(1,1.045)" font-size="28.6" fill="#000" text-anchor="end" font-weight="bold" >100</text>
<line x1="734.4" y1="1367" x2="1125" y2="1367" stroke="#000" stroke-width="3" stroke-linecap="butt"/>
<line x1="806.1" y1="1367" x2="806.1" y2="1382" stroke="#000" stroke-width="3" stroke-linecap="butt"/>
<line x1="937.3" y1="1367" x2="937.3" y2="1382" stroke="#000" stroke-width="3" stroke-linecap="butt"/>
<line x1="1068.4" y1="1367" x2="1068.4" y2="1382" stroke="#000" stroke-width="3" stroke-linecap="butt"/>
<text transform="translate(801.7,1419.8) scale(1,1.045)" font-size="36" fill="#000" text-anchor="middle" font-weight="bold" >Aged</text>
<text transform="translate(801.7,1458.6) scale(1,1.045)" font-size="36" fill="#000" text-anchor="middle" font-weight="bold" >WT</text>
<text transform="translate(937,1419.8) scale(1,1.045)" font-size="36" fill="#000" text-anchor="middle" font-weight="bold" >Aged</text>
<text transform="translate(937,1464) scale(1,1.045)" font-size="36" fill="#000" text-anchor="middle" font-weight="bold" >IL-17<tspan dx="0" dy="-16.2" font-size="24.5">KO</tspan></text>
<text transform="translate(1063.5,1419.8) scale(1,1.045)" font-size="36" fill="#000" text-anchor="middle" font-weight="bold" >Young</text>
<text transform="translate(1063.5,1458.6) scale(1,1.045)" font-size="36" fill="#000" text-anchor="middle" font-weight="bold" >WT</text>
<text transform="translate(772.7,852.7) scale(1,1.045)" font-size="31.2" fill="#000" text-anchor="start" font-weight="bold" letter-spacing="-0.3">p= 0.66,</text>
<text transform="translate(929,852.7) scale(1,1.045)" font-size="31.2" fill="#2d16ff" text-anchor="start" font-weight="bold" letter-spacing="-0.3">p= 0.0067</text>
<text transform="translate(772.7,898.9) scale(1,1.045)" font-size="31.2" fill="#000" text-anchor="start" font-weight="bold" letter-spacing="-0.3">p= 0.38,</text>
<text transform="translate(903,898.9) scale(1,1.045)" font-size="31.2" fill="#2d16ff" text-anchor="start" font-weight="bold" letter-spacing="-0.3">p= 0.18</text>
<text transform="translate(905,948) scale(1,1.045)" font-size="31.2" fill="#000" text-anchor="start" font-weight="bold" letter-spacing="-0.3">p= 0.61,</text>
<text transform="translate(1036,948) scale(1,1.045)" font-size="31.2" fill="#2d16ff" text-anchor="start" font-weight="bold" letter-spacing="-0.3">p= 0.16</text>
<text transform="translate(1006.6,998.6) scale(1,1.045)" font-size="31.2" fill="#000" text-anchor="start" font-weight="bold" letter-spacing="-0.3">p= 0.084</text>
<text transform="translate(754.6,1019) scale(1,1.045)" font-size="31.2" fill="#000" text-anchor="start" font-weight="bold" letter-spacing="-0.3">p= 0.80</text>
<text transform="translate(882.8,1022.6) scale(1,1.045)" font-size="31.2" fill="#000" text-anchor="start" font-weight="bold" letter-spacing="-0.3">p= 0.91</text>
<line x1="783.4" y1="870" x2="1065.7" y2="870" stroke="#000" stroke-width="4.6" stroke-linecap="round"/>
<line x1="783.4" y1="916.6" x2="951.2" y2="916.6" stroke="#000" stroke-width="4.6" stroke-linecap="round"/>
<line x1="961.8" y1="965.4" x2="1073.8" y2="965.4" stroke="#000" stroke-width="4.6" stroke-linecap="round"/>
<line x1="1038.8" y1="1008.6" x2="1090.2" y2="1008.6" stroke="#000" stroke-width="4.6" stroke-linecap="round"/>
<line x1="786.3" y1="1028.8" x2="837.8" y2="1028.8" stroke="#000" stroke-width="4.6" stroke-linecap="round"/>
<line x1="909.5" y1="1032" x2="960.9" y2="1032" stroke="#000" stroke-width="4.6" stroke-linecap="round"/>
<text transform="translate(786.7,815.7) scale(1,1.045)" font-size="31.2" fill="#000" text-anchor="start" font-weight="bold" letter-spacing="-0.2">isotype</text>
<text transform="translate(915,815.7) scale(1,1.045)" font-size="31.2" fill="#2d16ff" text-anchor="start" font-weight="bold" letter-spacing="-0.2"><tspan font-family="'Liberation Serif', 'Times New Roman', serif" font-weight="normal">α</tspan>PD-L2</text>
<text transform="translate(663.2,1455.6) rotate(-90) scale(1,1.045)" font-size="40" font-weight="bold" fill="#000" textLength="547.8" lengthAdjust="spacingAndGlyphs"><tspan letter-spacing="0"><tspan dy="-0.0">% CCR2</tspan><tspan dy="-16.0" font-size="32.0">+</tspan><tspan dy="16.0" dx="0"> in CD45</tspan><tspan dy="-16.0" font-size="32.0">+</tspan><tspan dy="16.0" dx="0"> CD3</tspan><tspan dy="-16.0" font-size="32.0">+</tspan><tspan dy="16.0" dx="0"> CD8</tspan><tspan dy="-16.0" font-size="32.0">+</tspan></tspan></text>
<text transform="translate(587,799) scale(1,1.045)" font-size="62" fill="#000" text-anchor="start" font-weight="bold" >e</text>
<path d="M1392.1,1370.9V1126.9H1418.6V1370.9" fill="none" stroke="#000" stroke-width="5" stroke-linejoin="miter"/>
<path d="M1440.8,1370.9V1174.9H1467.8V1370.9" fill="none" stroke="#2d16ff" stroke-width="5" stroke-linejoin="miter"/>
<path d="M1522.6,1370.9V1123.2H1549.1V1370.9" fill="none" stroke="#000" stroke-width="5" stroke-linejoin="miter"/>
<path d="M1571.9,1370.9V1113.8H1598.4V1370.9" fill="none" stroke="#2d16ff" stroke-width="5" stroke-linejoin="miter"/>
<path d="M1653.1,1370.9V1108.4H1679.7V1370.9" fill="none" stroke="#000" stroke-width="5" stroke-linejoin="miter"/>
<path d="M1701.9,1370.9V1175.4H1728.9V1370.9" fill="none" stroke="#2d16ff" stroke-width="5" stroke-linejoin="miter"/>
<circle cx="1405.9" cy="1040" r="7.4" fill="#000"/>
<circle cx="1395.9" cy="1089.1" r="7.4" fill="#000"/>
<circle cx="1415.1" cy="1085.4" r="7.4" fill="#000"/>
<circle cx="1397" cy="1120.7" r="7.4" fill="#000"/>
<circle cx="1414.2" cy="1120.7" r="7.4" fill="#000"/>
<circle cx="1405.1" cy="1168.6" r="7.4" fill="#000"/>
<circle cx="1405.1" cy="1242.5" r="7.4" fill="#000"/>
<circle cx="1454.8" cy="1112" r="7.4" fill="#2d16ff"/>
<circle cx="1454.8" cy="1139.2" r="7.4" fill="#2d16ff"/>
<circle cx="1443.7" cy="1167.5" r="7.4" fill="#2d16ff"/>
<circle cx="1454.8" cy="1165" r="7.4" fill="#2d16ff"/>
<circle cx="1464.7" cy="1167.5" r="7.4" fill="#2d16ff"/>
<circle cx="1454.8" cy="1179.8" r="7.4" fill="#2d16ff"/>
<circle cx="1454.8" cy="1198.3" r="7.4" fill="#2d16ff"/>
<circle cx="1454.8" cy="1218" r="7.4" fill="#2d16ff"/>
<circle cx="1535.4" cy="1038.2" r="7.4" fill="#000"/>
<circle cx="1544.7" cy="1062.8" r="7.4" fill="#000"/>
<circle cx="1535.4" cy="1077.6" r="7.4" fill="#000"/>
<circle cx="1535.4" cy="1105.9" r="7.4" fill="#000"/>
<circle cx="1527.5" cy="1113.8" r="7.4" fill="#000"/>
<circle cx="1544.7" cy="1115.8" r="7.4" fill="#000"/>
<circle cx="1535.4" cy="1124.4" r="7.4" fill="#000"/>
<circle cx="1535.4" cy="1162.6" r="7.4" fill="#000"/>
<circle cx="1541" cy="1198.3" r="7.4" fill="#000"/>
<circle cx="1531.2" cy="1205.7" r="7.4" fill="#000"/>
<circle cx="1592.8" cy="1071.4" r="7.4" fill="#2d16ff"/>
<circle cx="1585.4" cy="1073.9" r="7.4" fill="#2d16ff"/>
<circle cx="1589" cy="1091.1" r="7.4" fill="#2d16ff"/>
<circle cx="1580.4" cy="1103.4" r="7.4" fill="#2d16ff"/>
<circle cx="1576.7" cy="1125.6" r="7.4" fill="#2d16ff"/>
<circle cx="1590.3" cy="1134.2" r="7.4" fill="#2d16ff"/>
<circle cx="1576.7" cy="1149" r="7.4" fill="#2d16ff"/>
<circle cx="1666.7" cy="1029.1" r="7.4" fill="#000"/>
<circle cx="1666.7" cy="1053" r="7.4" fill="#000"/>
<circle cx="1658" cy="1069" r="7.4" fill="#000"/>
<circle cx="1675.3" cy="1075.1" r="7.4" fill="#000"/>
<circle cx="1666.7" cy="1077.6" r="7.4" fill="#000"/>
<circle cx="1666.7" cy="1101" r="7.4" fill="#000"/>
<circle cx="1666.7" cy="1117" r="7.4" fill="#000"/>
<circle cx="1666.7" cy="1153.9" r="7.4" fill="#000"/>
<circle cx="1666.7" cy="1174.9" r="7.4" fill="#000"/>
<circle cx="1666.7" cy="1203.2" r="7.4" fill="#000"/>
<circle cx="1714.7" cy="1109.6" r="7.4" fill="#2d16ff"/>
<circle cx="1706" cy="1151.5" r="7.4" fill="#2d16ff"/>
<circle cx="1714.7" cy="1152.7" r="7.4" fill="#2d16ff"/>
<circle cx="1724.5" cy="1155.2" r="7.4" fill="#2d16ff"/>
<circle cx="1714.7" cy="1169.5" r="7.4" fill="#2d16ff"/>
<circle cx="1707.3" cy="1231.5" r="7.4" fill="#2d16ff"/>
<circle cx="1719.6" cy="1231.5" r="7.4" fill="#2d16ff"/>
<line x1="1405.6" y1="1099.8" x2="1405.6" y2="1149" stroke="#000" stroke-width="1.8" stroke-linecap="butt"/>
<line x1="1397" y1="1099.8" x2="1414.2" y2="1099.8" stroke="#000" stroke-width="1.8" stroke-linecap="butt"/>
<line x1="1397" y1="1149" x2="1414.2" y2="1149" stroke="#000" stroke-width="1.8" stroke-linecap="butt"/>
<line x1="1454.8" y1="1156.9" x2="1454.8" y2="1179.8" stroke="#2d16ff" stroke-width="1.8" stroke-linecap="butt"/>
<line x1="1446.2" y1="1156.9" x2="1463.4" y2="1156.9" stroke="#2d16ff" stroke-width="1.8" stroke-linecap="butt"/>
<line x1="1446.2" y1="1179.8" x2="1463.4" y2="1179.8" stroke="#2d16ff" stroke-width="1.8" stroke-linecap="butt"/>
<line x1="1535.4" y1="1103.4" x2="1535.4" y2="1138.4" stroke="#000" stroke-width="1.8" stroke-linecap="butt"/>
<line x1="1526.8" y1="1103.4" x2="1544" y2="1103.4" stroke="#000" stroke-width="1.8" stroke-linecap="butt"/>
<line x1="1526.8" y1="1138.4" x2="1544" y2="1138.4" stroke="#000" stroke-width="1.8" stroke-linecap="butt"/>
<line x1="1584.6" y1="1100.5" x2="1584.6" y2="1120.7" stroke="#2d16ff" stroke-width="1.8" stroke-linecap="butt"/>
<line x1="1576" y1="1100.5" x2="1593.2" y2="1100.5" stroke="#2d16ff" stroke-width="1.8" stroke-linecap="butt"/>
<line x1="1576" y1="1120.7" x2="1593.2" y2="1120.7" stroke="#2d16ff" stroke-width="1.8" stroke-linecap="butt"/>
<line x1="1666.7" y1="1087.4" x2="1666.7" y2="1123.2" stroke="#000" stroke-width="1.8" stroke-linecap="butt"/>
<line x1="1658.1" y1="1087.4" x2="1675.3" y2="1087.4" stroke="#000" stroke-width="1.8" stroke-linecap="butt"/>
<line x1="1658.1" y1="1123.2" x2="1675.3" y2="1123.2" stroke="#000" stroke-width="1.8" stroke-linecap="butt"/>
<line x1="1714.7" y1="1160" x2="1714.7" y2="1189.2" stroke="#2d16ff" stroke-width="1.8" stroke-linecap="butt"/>
<line x1="1706.1" y1="1160" x2="1723.3" y2="1160" stroke="#2d16ff" stroke-width="1.8" stroke-linecap="butt"/>
<line x1="1706.1" y1="1189.2" x2="1723.3" y2="1189.2" stroke="#2d16ff" stroke-width="1.8" stroke-linecap="butt"/>
<line x1="1373.2" y1="995.9" x2="1373.2" y2="1372.4" stroke="#000" stroke-width="3" stroke-linecap="butt"/>
<line x1="1357.2" y1="1370.9" x2="1373.2" y2="1370.9" stroke="#000" stroke-width="3" stroke-linecap="butt"/>
<text transform="translate(1351.5,1381.14) scale(1,1.045)" font-size="28.6" fill="#000" text-anchor="end" font-weight="bold" >0</text>
<line x1="1357.2" y1="1277.15" x2="1373.2" y2="1277.15" stroke="#000" stroke-width="3" stroke-linecap="butt"/>
<text transform="translate(1351.5,1287.39) scale(1,1.045)" font-size="28.6" fill="#000" text-anchor="end" font-weight="bold" >20</text>
<line x1="1357.2" y1="1183.4" x2="1373.2" y2="1183.4" stroke="#000" stroke-width="3" stroke-linecap="butt"/>
<text transform="translate(1351.5,1193.64) scale(1,1.045)" font-size="28.6" fill="#000" text-anchor="end" font-weight="bold" >40</text>
<line x1="1357.2" y1="1089.65" x2="1373.2" y2="1089.65" stroke="#000" stroke-width="3" stroke-linecap="butt"/>
<text transform="translate(1351.5,1099.89) scale(1,1.045)" font-size="28.6" fill="#000" text-anchor="end" font-weight="bold" >60</text>
<line x1="1357.2" y1="995.9" x2="1373.2" y2="995.9" stroke="#000" stroke-width="3" stroke-linecap="butt"/>
<text transform="translate(1351.5,1006.14) scale(1,1.045)" font-size="28.6" fill="#000" text-anchor="end" font-weight="bold" >80</text>
<line x1="1357" y1="1370.9" x2="1747" y2="1370.9" stroke="#000" stroke-width="3" stroke-linecap="butt"/>
<line x1="1430" y1="1370.9" x2="1430" y2="1385.9" stroke="#000" stroke-width="3" stroke-linecap="butt"/>
<line x1="1560.3" y1="1370.9" x2="1560.3" y2="1385.9" stroke="#000" stroke-width="3" stroke-linecap="butt"/>
<line x1="1690.4" y1="1370.9" x2="1690.4" y2="1385.9" stroke="#000" stroke-width="3" stroke-linecap="butt"/>
<text transform="translate(1424.6,1421.6) scale(1,1.045)" font-size="36" fill="#000" text-anchor="middle" font-weight="bold" >Aged</text>
<text transform="translate(1424.6,1460.4) scale(1,1.045)" font-size="36" fill="#000" text-anchor="middle" font-weight="bold" >WT</text>
<text transform="translate(1559.4,1421.6) scale(1,1.045)" font-size="36" fill="#000" text-anchor="middle" font-weight="bold" >Aged</text>
<text transform="translate(1559.4,1466) scale(1,1.045)" font-size="36" fill="#000" text-anchor="middle" font-weight="bold" >IL-17<tspan dx="0" dy="-16.2" font-size="24.5">KO</tspan></text>
<text transform="translate(1685,1421.6) scale(1,1.045)" font-size="36" fill="#000" text-anchor="middle" font-weight="bold" >Young</text>
<text transform="translate(1685,1460.4) scale(1,1.045)" font-size="36" fill="#000" text-anchor="middle" font-weight="bold" >WT</text>
<text transform="translate(1395.7,839.8) scale(1,1.045)" font-size="31.2" fill="#000" text-anchor="start" font-weight="bold" letter-spacing="-0.3">p= 0.74,</text>
<text transform="translate(1528.7,839.8) scale(1,1.045)" font-size="31.2" fill="#2d16ff" text-anchor="start" font-weight="bold" letter-spacing="-0.3">p= 0.86</text>
<text transform="translate(1395.7,891.5) scale(1,1.045)" font-size="31.2" fill="#000" text-anchor="start" font-weight="bold" letter-spacing="-0.3">p= 0.45,</text>
<text transform="translate(1519.5,891.5) scale(1,1.045)" font-size="31.2" fill="#2d16ff" text-anchor="start" font-weight="bold" letter-spacing="-0.3">p= 0.0024</text>
<text transform="translate(1526,945) scale(1,1.045)" font-size="31.2" fill="#000" text-anchor="start" font-weight="bold" letter-spacing="-0.3">p= 0.65,</text>
<text transform="translate(1640.7,945) scale(1,1.045)" font-size="31.2" fill="#2d16ff" text-anchor="start" font-weight="bold" letter-spacing="-0.3">p= 0.0073</text>
<text transform="translate(1371,1004.2) scale(1,1.045)" font-size="31.2" fill="#000" text-anchor="start" font-weight="bold" letter-spacing="-0.3">p= 0.0086</text>
<text transform="translate(1505.5,1024.5) scale(1,1.045)" font-size="31.2" fill="#000" text-anchor="start" font-weight="bold" letter-spacing="-0.3">p= 0.51</text>
<text transform="translate(1630.3,1004.2) scale(1,1.045)" font-size="31.2" fill="#000" text-anchor="start" font-weight="bold" letter-spacing="-0.3">p= 0.035</text>
<line x1="1406.4" y1="853.8" x2="1688.4" y2="853.8" stroke="#000" stroke-width="4.6" stroke-linecap="round"/>
<line x1="1406.4" y1="908.8" x2="1574.2" y2="908.8" stroke="#000" stroke-width="4.6" stroke-linecap="round"/>
<line x1="1583.7" y1="967.2" x2="1696.8" y2="967.2" stroke="#000" stroke-width="4.6" stroke-linecap="round"/>
<line x1="1403.9" y1="1014.8" x2="1455.3" y2="1014.8" stroke="#000" stroke-width="4.6" stroke-linecap="round"/>
<line x1="1534.4" y1="1035.7" x2="1583.4" y2="1035.7" stroke="#000" stroke-width="4.6" stroke-linecap="round"/>
<line x1="1661.3" y1="1017.2" x2="1712.7" y2="1017.2" stroke="#000" stroke-width="4.6" stroke-linecap="round"/>
<text transform="translate(1410.5,804.7) scale(1,1.045)" font-size="31.2" fill="#000" text-anchor="start" font-weight="bold" letter-spacing="-0.2">isotype</text>
<text transform="translate(1538,804.7) scale(1,1.045)" font-size="31.2" fill="#2d16ff" text-anchor="start" font-weight="bold" letter-spacing="-0.2"><tspan font-family="'Liberation Serif', 'Times New Roman', serif" font-weight="normal">α</tspan>PD-L2</text>
<text transform="translate(1301.8,1456.5) rotate(-90) scale(1,1.045)" font-size="40" font-weight="bold" fill="#000" textLength="545.8" lengthAdjust="spacingAndGlyphs"><tspan letter-spacing="0"><tspan dy="-0.0">% CCR2</tspan><tspan dy="-16.0" font-size="32.0">+</tspan><tspan dy="16.0" dx="0"> in CD45</tspan><tspan dy="-16.0" font-size="32.0">+</tspan><tspan dy="16.0" dx="0"> CD3</tspan><tspan dy="-16.0" font-size="32.0">+</tspan><tspan dy="16.0" dx="0"> CD4</tspan><tspan dy="-16.0" font-size="32.0">+</tspan></tspan></text>
<text transform="translate(1203,795) scale(1,1.045)" font-size="62" fill="#000" text-anchor="start" font-weight="bold" >f</text>
<path d="M255.7,1704.3L255.7,1565.3A139,139 0 0 1 258.85,1565.34Z" fill="#4d4d52" stroke="#4d4d52" stroke-width="1.8" stroke-linejoin="round"/>
<path d="M255.7,1704.3L258.85,1565.34A139,139 0 0 1 262.49,1565.47Z" fill="#eaee3e" stroke="#4d4d52" stroke-width="1.8" stroke-linejoin="round"/>
<path d="M255.7,1704.3L262.49,1565.47A139,139 0 0 1 356.69,1608.79Z" fill="#5eff1a" stroke="#4d4d52" stroke-width="1.8" stroke-linejoin="round"/>
<path d="M255.7,1704.3L356.69,1608.79A139,139 0 0 1 394.51,1711.57Z" fill="#72ffd4" stroke="#4d4d52" stroke-width="1.8" stroke-linejoin="round"/>
<path d="M255.7,1704.3L394.51,1711.57A139,139 0 0 1 394.43,1713.03Z" fill="#d040ff" stroke="#4d4d52" stroke-width="1.8" stroke-linejoin="round"/>
<path d="M255.7,1704.3L394.43,1713.03A139,139 0 0 1 394.33,1714.48Z" fill="#4d4d52" stroke="#4d4d52" stroke-width="1.8" stroke-linejoin="round"/>
<path d="M255.7,1704.3L394.33,1714.48A139,139 0 0 1 393.78,1720.28Z" fill="#e06e30" stroke="#4d4d52" stroke-width="1.8" stroke-linejoin="round"/>
<path d="M255.7,1704.3L393.78,1720.28A139,139 0 0 1 393.51,1722.44Z" fill="#4d4d52" stroke="#4d4d52" stroke-width="1.8" stroke-linejoin="round"/>
<path d="M255.7,1704.3L393.51,1722.44A139,139 0 0 1 384.94,1755.47Z" fill="#6ae6ff" stroke="#4d4d52" stroke-width="1.8" stroke-linejoin="round"/>
<path d="M255.7,1704.3L384.94,1755.47A139,139 0 0 1 354.5,1802.07Z" fill="#4a88ff" stroke="#4d4d52" stroke-width="1.8" stroke-linejoin="round"/>
<path d="M255.7,1704.3L354.5,1802.07A139,139 0 1 1 226.8,1568.34Z" fill="#301cff" stroke="#4d4d52" stroke-width="1.8" stroke-linejoin="round"/>
<path d="M255.7,1704.3L226.8,1568.34A139,139 0 0 1 229.18,1567.85Z" fill="#4d4d52" stroke="#4d4d52" stroke-width="1.8" stroke-linejoin="round"/>
<path d="M255.7,1704.3L229.18,1567.85A139,139 0 0 1 235.15,1566.83Z" fill="#d040ff" stroke="#4d4d52" stroke-width="1.8" stroke-linejoin="round"/>
<path d="M255.7,1704.3L235.15,1566.83A139,139 0 0 1 237.08,1566.55Z" fill="#4d4d52" stroke="#4d4d52" stroke-width="1.8" stroke-linejoin="round"/>
<path d="M255.7,1704.3L237.08,1566.55A139,139 0 0 1 254.49,1565.31Z" fill="#ff44ee" stroke="#4d4d52" stroke-width="1.8" stroke-linejoin="round"/>
<path d="M255.7,1704.3L254.49,1565.31A139,139 0 0 1 255.7,1565.3Z" fill="#4d4d52" stroke="#4d4d52" stroke-width="1.8" stroke-linejoin="round"/>
<circle cx="255.7" cy="1704.3" r="139" fill="none" stroke="#4d4d52" stroke-width="2"/>
<path d="M255.7,1551.1A153.2,153.2 0 0 1 406.89,1729.06" fill="none" stroke="#ff2d14" stroke-width="9.5"/>
<path d="M255.7,1535.5A168.8,168.8 0 0 1 424.15,1715.19" fill="none" stroke="#e8f038" stroke-width="9.5"/>
<path d="M422.51,1730.12A168.8,168.8 0 1 1 220.6,1539.19" fill="none" stroke="#e8f038" stroke-width="9.5"/>
<path d="M217.17,1524.58A183.8,183.8 0 0 1 232.35,1521.99" fill="none" stroke="#5eff1a" stroke-width="9.5"/>
<path d="M255.7,1520.5A183.8,183.8 0 0 1 266.28,1520.8" fill="none" stroke="#5eff1a" stroke-width="9.5"/>
<path d="M439.2,1714.88A183.8,183.8 0 0 1 439.07,1716.8" fill="none" stroke="#5eff1a" stroke-width="9.5"/>
<path d="M437.53,1731.15A183.8,183.8 0 0 1 426.24,1772.86" fill="none" stroke="#5eff1a" stroke-width="9.5"/>
<path d="M213.2,1509.38A199.5,199.5 0 0 1 215.93,1508.81" fill="none" stroke="#72ffd4" stroke-width="9.5"/>
<path d="M228.97,1506.6A199.5,199.5 0 0 1 259.18,1504.83" fill="none" stroke="#72ffd4" stroke-width="9.5"/>
<path d="M266.84,1505.11A199.5,199.5 0 0 1 401.61,1568.24" fill="none" stroke="#72ffd4" stroke-width="9.5"/>
<path d="M454.85,1716.13A199.5,199.5 0 0 1 454.21,1724.11" fill="none" stroke="#72ffd4" stroke-width="9.5"/>
<path d="M453.01,1733.79A199.5,199.5 0 0 1 452.41,1737.57" fill="none" stroke="#72ffd4" stroke-width="9.5"/>
<path d="M441.32,1777.42A199.5,199.5 0 0 1 395.53,1846.59" fill="none" stroke="#72ffd4" stroke-width="9.5"/>
<path d="M254.8,2197.3L254.8,2058.3A139,139 0 0 1 261.83,2058.48Z" fill="#ff2c14" stroke="#4d4d52" stroke-width="1.8" stroke-linejoin="round"/>
<path d="M254.8,2197.3L261.83,2058.48A139,139 0 0 1 263.29,2058.56Z" fill="#4d4d52" stroke="#4d4d52" stroke-width="1.8" stroke-linejoin="round"/>
<path d="M254.8,2197.3L263.29,2058.56A139,139 0 0 1 290.78,2063.04Z" fill="#eaee3e" stroke="#4d4d52" stroke-width="1.8" stroke-linejoin="round"/>
<path d="M254.8,2197.3L290.78,2063.04A139,139 0 0 1 391.97,2174.84Z" fill="#5eff1a" stroke="#4d4d52" stroke-width="1.8" stroke-linejoin="round"/>
<path d="M254.8,2197.3L391.97,2174.84A139,139 0 0 1 274.87,2334.84Z" fill="#72ffd4" stroke="#4d4d52" stroke-width="1.8" stroke-linejoin="round"/>
<path d="M254.8,2197.3L274.87,2334.84A139,139 0 0 1 267.88,2335.68Z" fill="#4d4d52" stroke="#4d4d52" stroke-width="1.8" stroke-linejoin="round"/>
<path d="M254.8,2197.3L267.88,2335.68A139,139 0 0 1 246.56,2336.06Z" fill="#e06e30" stroke="#4d4d52" stroke-width="1.8" stroke-linejoin="round"/>
<path d="M254.8,2197.3L246.56,2336.06A139,139 0 0 1 243.89,2335.87Z" fill="#4d4d52" stroke="#4d4d52" stroke-width="1.8" stroke-linejoin="round"/>
<path d="M254.8,2197.3L243.89,2335.87A139,139 0 0 1 195.4,2322.97Z" fill="#6ae6ff" stroke="#4d4d52" stroke-width="1.8" stroke-linejoin="round"/>
<path d="M254.8,2197.3L195.4,2322.97A139,139 0 0 1 170.57,2307.87Z" fill="#4a88ff" stroke="#4d4d52" stroke-width="1.8" stroke-linejoin="round"/>
<path d="M254.8,2197.3L170.57,2307.87A139,139 0 0 1 215.32,2064.02Z" fill="#301cff" stroke="#4d4d52" stroke-width="1.8" stroke-linejoin="round"/>
<path d="M254.8,2197.3L215.32,2064.02A139,139 0 0 1 217.65,2063.36Z" fill="#4d4d52" stroke="#4d4d52" stroke-width="1.8" stroke-linejoin="round"/>
<path d="M254.8,2197.3L217.65,2063.36A139,139 0 0 1 246.56,2058.54Z" fill="#d040ff" stroke="#4d4d52" stroke-width="1.8" stroke-linejoin="round"/>
<path d="M254.8,2197.3L246.56,2058.54A139,139 0 0 1 251.89,2058.33Z" fill="#ff44ee" stroke="#4d4d52" stroke-width="1.8" stroke-linejoin="round"/>
<path d="M254.8,2197.3L251.89,2058.33A139,139 0 0 1 254.8,2058.3Z" fill="#4d4d52" stroke="#4d4d52" stroke-width="1.8" stroke-linejoin="round"/>
<circle cx="254.8" cy="2197.3" r="139" fill="none" stroke="#4d4d52" stroke-width="2"/>
<path d="M254.8,2044.1A153.2,153.2 0 1 1 244.65,2350.16" fill="none" stroke="#ff2d14" stroke-width="9.5"/>
<path d="M254.8,2028.5A168.8,168.8 0 0 1 277.42,2364.58" fill="none" stroke="#e8f038" stroke-width="9.5"/>
<path d="M244.5,2365.79A168.8,168.8 0 0 1 206.58,2035.54" fill="none" stroke="#e8f038" stroke-width="9.5"/>
<path d="M201.68,2021.34A183.8,183.8 0 0 1 243.58,2013.84" fill="none" stroke="#5eff1a" stroke-width="9.5"/>
<path d="M254.8,2013.5A183.8,183.8 0 0 1 304.54,2020.36" fill="none" stroke="#5eff1a" stroke-width="9.5"/>
<path d="M280.38,2379.31A183.8,183.8 0 0 1 275.61,2379.92" fill="none" stroke="#5eff1a" stroke-width="9.5"/>
<path d="M242.94,2380.72A183.8,183.8 0 0 1 175.96,2363.33" fill="none" stroke="#5eff1a" stroke-width="9.5"/>
<path d="M198.14,2006.02A199.5,199.5 0 0 1 201.49,2005.06" fill="none" stroke="#72ffd4" stroke-width="9.5"/>
<path d="M242.97,1998.15A199.5,199.5 0 0 1 266.98,1998.17" fill="none" stroke="#72ffd4" stroke-width="9.5"/>
<path d="M307.44,2004.87A199.5,199.5 0 0 1 451.39,2163.34" fill="none" stroke="#72ffd4" stroke-width="9.5"/>
<path d="M281.88,2394.95A199.5,199.5 0 0 1 272.88,2395.98" fill="none" stroke="#72ffd4" stroke-width="9.5"/>
<path d="M242.62,2396.43A199.5,199.5 0 0 1 239.15,2396.19" fill="none" stroke="#72ffd4" stroke-width="9.5"/>
<path d="M170.17,2377.96A199.5,199.5 0 0 1 132.8,2355.15" fill="none" stroke="#72ffd4" stroke-width="9.5"/>
<path d="M714,1694.6L714,1555.6A139,139 0 0 1 807.91,1592.12Z" fill="#72ffd4" stroke="#4d4d52" stroke-width="1.8" stroke-linejoin="round"/>
<path d="M714,1694.6L807.91,1592.12A139,139 0 0 1 846.93,1735.24Z" fill="#e06e30" stroke="#4d4d52" stroke-width="1.8" stroke-linejoin="round"/>
<path d="M714,1694.6L846.93,1735.24A139,139 0 1 1 714,1555.6Z" fill="#301cff" stroke="#4d4d52" stroke-width="1.8" stroke-linejoin="round"/>
<circle cx="714" cy="1694.6" r="139" fill="none" stroke="#4d4d52" stroke-width="2"/>
<path d="M714,1541.4A153.2,153.2 0 0 1 860.66,1738.88" fill="none" stroke="#ff2d14" stroke-width="9.5"/>
<path d="M715.03,1525.8A168.8,168.8 0 0 1 828.69,1570.75" fill="none" stroke="#e8f038" stroke-width="9.5"/>
<path d="M874.99,1745.36A168.8,168.8 0 1 1 712.97,1525.8" fill="none" stroke="#e8f038" stroke-width="9.5"/>
<path d="M713.2,1510.8A183.8,183.8 0 0 1 714.8,1510.8" fill="none" stroke="#5eff1a" stroke-width="9.5"/>
<path d="M713.2,2225.4L713.2,2086.4A139,139 0 0 1 781.65,2104.42Z" fill="#72ffd4" stroke="#4d4d52" stroke-width="1.8" stroke-linejoin="round"/>
<path d="M713.2,2225.4L781.65,2104.42A139,139 0 0 1 852.14,2221.28Z" fill="#e06e30" stroke="#4d4d52" stroke-width="1.8" stroke-linejoin="round"/>
<path d="M713.2,2225.4L852.14,2221.28A139,139 0 1 1 713.2,2086.4Z" fill="#301cff" stroke="#4d4d52" stroke-width="1.8" stroke-linejoin="round"/>
<circle cx="713.2" cy="2225.4" r="139" fill="none" stroke="#4d4d52" stroke-width="2"/>
<path d="M713.2,2072.2A153.2,153.2 0 0 1 866.31,2220.05" fill="none" stroke="#ff2d14" stroke-width="9.5"/>
<path d="M714.08,2056.6A168.8,168.8 0 0 1 797.6,2079.21" fill="none" stroke="#e8f038" stroke-width="9.5"/>
<path d="M881.94,2220.98A168.8,168.8 0 1 1 712.32,2056.6" fill="none" stroke="#e8f038" stroke-width="9.5"/>
<path d="M712.4,2041.6A183.8,183.8 0 0 1 714,2041.6" fill="none" stroke="#5eff1a" stroke-width="9.5"/>
<path d="M1133.3,1704.5L1133.3,1565.5A139,139 0 0 1 1203.22,1584.37Z" fill="#72ffd4" stroke="#4d4d52" stroke-width="1.8" stroke-linejoin="round"/>
<path d="M1133.3,1704.5L1203.22,1584.37A139,139 0 0 1 1254.16,1635.84Z" fill="#e06e30" stroke="#4d4d52" stroke-width="1.8" stroke-linejoin="round"/>
<path d="M1133.3,1704.5L1254.16,1635.84A139,139 0 1 1 1133.3,1565.5Z" fill="#301cff" stroke="#4d4d52" stroke-width="1.8" stroke-linejoin="round"/>
<circle cx="1133.3" cy="1704.5" r="139" fill="none" stroke="#4d4d52" stroke-width="2"/>
<path d="M1133.3,1551.3A153.2,153.2 0 0 1 1265.98,1627.9" fill="none" stroke="#ff2d14" stroke-width="9.5"/>
<path d="M1134.77,1535.71A168.8,168.8 0 0 1 1218.72,1558.91" fill="none" stroke="#e8f038" stroke-width="9.5"/>
<path d="M1280.65,1622.15A168.8,168.8 0 1 1 1131.83,1535.71" fill="none" stroke="#e8f038" stroke-width="9.5"/>
<path d="M1132.02,1520.7A183.8,183.8 0 0 1 1134.58,1520.7" fill="none" stroke="#5eff1a" stroke-width="9.5"/>
<path d="M1132.26,1505A199.5,199.5 0 0 1 1134.34,1505" fill="none" stroke="#72ffd4" stroke-width="9.5"/>
<path d="M1306.42,1605.35A199.5,199.5 0 0 1 1307.45,1607.17" fill="none" stroke="#72ffd4" stroke-width="9.5"/>
<path d="M1138.8,2221.3L1138.8,2082.3A139,139 0 0 1 1207.25,2100.32Z" fill="#72ffd4" stroke="#4d4d52" stroke-width="1.8" stroke-linejoin="round"/>
<path d="M1138.8,2221.3L1207.25,2100.32A139,139 0 0 1 1246.06,2132.89Z" fill="#e06e30" stroke="#4d4d52" stroke-width="1.8" stroke-linejoin="round"/>
<path d="M1138.8,2221.3L1246.06,2132.89A139,139 0 1 1 1138.8,2082.3Z" fill="#301cff" stroke="#4d4d52" stroke-width="1.8" stroke-linejoin="round"/>
<circle cx="1138.8" cy="2221.3" r="139" fill="none" stroke="#4d4d52" stroke-width="2"/>
<path d="M1138.8,2068.1A153.2,153.2 0 0 1 1256.5,2123.24" fill="none" stroke="#ff2d14" stroke-width="9.5"/>
<path d="M1139.68,2052.5A168.8,168.8 0 0 1 1222.94,2074.97" fill="none" stroke="#e8f038" stroke-width="9.5"/>
<path d="M1269.61,2114.61A168.8,168.8 0 1 1 1137.92,2052.5" fill="none" stroke="#e8f038" stroke-width="9.5"/>
<path d="M1138,2037.5A183.8,183.8 0 0 1 1139.6,2037.5" fill="none" stroke="#5eff1a" stroke-width="9.5"/>
<text transform="translate(152.5,1904.6) scale(1,1.045)" font-size="23.2" fill="#000" text-anchor="start" font-weight="bold" >Treatment: isotype</text>
<text transform="translate(152.5,1931.9) scale(1,1.045)" font-size="23.2" fill="#000" text-anchor="start" font-weight="bold" >Age: Aged</text>
<text transform="translate(152.5,1959.2) scale(1,1.045)" font-size="23.2" fill="#000" text-anchor="start" font-weight="bold" >Strain: WT</text>
<text transform="translate(152.5,2437.6) scale(1,1.045)" font-size="23.2" fill="#000" text-anchor="start" font-weight="bold" >Treatment: <tspan font-family="'Liberation Serif', 'Times New Roman', serif" font-weight="normal">α</tspan>PD-L2</text>
<text transform="translate(152.5,2464.9) scale(1,1.045)" font-size="23.2" fill="#000" text-anchor="start" font-weight="bold" >Age: Aged</text>
<text transform="translate(152.5,2492.2) scale(1,1.045)" font-size="23.2" fill="#000" text-anchor="start" font-weight="bold" >Strain: WT</text>
<text transform="translate(603.2,1904.4) scale(1,1.045)" font-size="23.2" fill="#000" text-anchor="start" font-weight="bold" >Treatment: isotype</text>
<text transform="translate(603.2,1931.7) scale(1,1.045)" font-size="23.2" fill="#000" text-anchor="start" font-weight="bold" >Age: Aged</text>
<text transform="translate(603.2,1959) scale(1,1.045)" font-size="23.2" fill="#000" text-anchor="start" font-weight="bold" >Strain: IL-17<tspan dy="-6.5" font-size="14.8">KO</tspan></text>
<text transform="translate(603.2,2437.2) scale(1,1.045)" font-size="23.2" fill="#000" text-anchor="start" font-weight="bold" >Treatment: <tspan font-family="'Liberation Serif', 'Times New Roman', serif" font-weight="normal">α</tspan>PD-L2</text>
<text transform="translate(603.2,2464.5) scale(1,1.045)" font-size="23.2" fill="#000" text-anchor="start" font-weight="bold" >Age: Aged</text>
<text transform="translate(603.2,2491.8) scale(1,1.045)" font-size="23.2" fill="#000" text-anchor="start" font-weight="bold" >Strain: IL-17<tspan dy="-6.5" font-size="14.8">KO</tspan></text>
<text transform="translate(1027.8,1904.4) scale(1,1.045)" font-size="23.2" fill="#000" text-anchor="start" font-weight="bold" >Treatment: isotype</text>
<text transform="translate(1027.8,1931.7) scale(1,1.045)" font-size="23.2" fill="#000" text-anchor="start" font-weight="bold" >Age: Young</text>
<text transform="translate(1027.8,1959) scale(1,1.045)" font-size="23.2" fill="#000" text-anchor="start" font-weight="bold" >Strain: WT</text>
<text transform="translate(1035.5,2437.8) scale(1,1.045)" font-size="23.2" fill="#000" text-anchor="start" font-weight="bold" >Treatment: <tspan font-family="'Liberation Serif', 'Times New Roman', serif" font-weight="normal">α</tspan>PD-L2</text>
<text transform="translate(1035.5,2465.1) scale(1,1.045)" font-size="23.2" fill="#000" text-anchor="start" font-weight="bold" >Age: Young</text>
<text transform="translate(1035.5,2492.4) scale(1,1.045)" font-size="23.2" fill="#000" text-anchor="start" font-weight="bold" >Strain: WT</text>
<path d="M71.9,1662.8H52.6V2237.7H71.9" fill="none" stroke="#000" stroke-width="5" stroke-linejoin="round"/>
<path d="M530.2,1662.8H510.9V2237.7H530.2" fill="none" stroke="#000" stroke-width="5" stroke-linejoin="round"/>
<path d="M957.3,1662.8H938V2237.7H957.3" fill="none" stroke="#000" stroke-width="5" stroke-linejoin="round"/>
<text transform="translate(41,2003.3) rotate(-90) scale(1,1.045)" font-size="35" font-weight="bold" textLength="145.8" lengthAdjust="spacingAndGlyphs">p = 0.020</text>
<text transform="translate(499,1992.7) rotate(-90) scale(1,1.045)" font-size="35" font-weight="bold" textLength="125.4" lengthAdjust="spacingAndGlyphs">p = 0.70</text>
<text transform="translate(926.2,1992.7) rotate(-90) scale(1,1.045)" font-size="35" font-weight="bold" textLength="125.4" lengthAdjust="spacingAndGlyphs">p = 0.89</text>
<text transform="translate(2,1573) scale(1,1.045)" font-size="62" fill="#000" text-anchor="start" font-weight="bold" >g</text>
<text transform="translate(1397.3,1592) scale(1,1.045)" font-size="23.2" fill="#000" text-anchor="start" font-weight="bold" >Pie Figure Arc Legend</text>
<rect x="1400.4" y="1612.8" width="52.8" height="19.2" fill="#ff3010" stroke="#000" stroke-width="3.2"/>
<text transform="translate(1467.4,1633.3) scale(1,1.045)" font-size="23.2" fill="#000" text-anchor="start" font-weight="bold" >IFN<tspan font-family="'Liberation Serif', 'Times New Roman', serif" font-weight="normal">γ</tspan> +</text>
<rect x="1400.4" y="1664.9" width="52.8" height="19.2" fill="#eeee40" stroke="#000" stroke-width="3.2"/>
<text transform="translate(1467.4,1679.3) scale(1,1.045)" font-size="23.2" fill="#000" text-anchor="start" font-weight="bold" >TNF<tspan font-family="'Liberation Serif', 'Times New Roman', serif" font-weight="normal">α</tspan> +</text>
<rect x="1400.4" y="1716.6" width="52.8" height="19.2" fill="#60ff18" stroke="#000" stroke-width="3.2"/>
<text transform="translate(1467.4,1734.2) scale(1,1.045)" font-size="23.2" fill="#000" text-anchor="start" font-weight="bold" >GZMB +</text>
<rect x="1400.4" y="1768.6" width="52.8" height="19.2" fill="#78ffd4" stroke="#000" stroke-width="3.2"/>
<text transform="translate(1467.4,1789.3) scale(1,1.045)" font-size="23.2" fill="#000" text-anchor="start" font-weight="bold" >IL-2 +</text>
<text transform="translate(1403.6,1871.5) scale(1,1.045)" font-size="23.2" fill="#000" text-anchor="start" font-weight="bold" >Categories</text>
<text transform="translate(1409.2,1909.8) scale(1,1.045)" font-size="23.2" fill="#000" text-anchor="start" font-weight="bold" >#</text>
<text transform="translate(1442.3,1909.8) scale(1,1.045)" font-size="23.2" fill="#000" text-anchor="start" font-weight="bold" >IFN<tspan font-family="'Liberation Serif', 'Times New Roman', serif" font-weight="normal">γ</tspan></text>
<text transform="translate(1534.8,1909.8) scale(1,1.045)" font-size="23.2" fill="#000" text-anchor="start" font-weight="bold" >TNF<tspan font-family="'Liberation Serif', 'Times New Roman', serif" font-weight="normal">α</tspan></text>
<text transform="translate(1619.8,1909.8) scale(1,1.045)" font-size="23.2" fill="#000" text-anchor="start" font-weight="bold" >GZMB</text>
<text transform="translate(1733.4,1909.8) scale(1,1.045)" font-size="23.2" fill="#000" text-anchor="start" font-weight="bold" >IL-2</text>
<rect x="1399.9" y="1932.8" width="45.2" height="17.1" fill="#ff2c14" stroke="#000" stroke-width="3.2"/>
<text transform="translate(1422.3,1948.6) scale(1,1.045)" font-size="20.5" fill="#000" text-anchor="middle" font-weight="normal" >1</text>
<text transform="translate(1462.3,1947.8) scale(1,1.045)" font-size="23" fill="#000" text-anchor="middle" font-weight="normal" >+</text>
<text transform="translate(1559,1947.8) scale(1,1.045)" font-size="23" fill="#000" text-anchor="middle" font-weight="normal" >+</text>
<text transform="translate(1656,1947.8) scale(1,1.045)" font-size="23" fill="#000" text-anchor="middle" font-weight="normal" >+</text>
<text transform="translate(1753,1947.8) scale(1,1.045)" font-size="23" fill="#000" text-anchor="middle" font-weight="normal" >+</text>
<rect x="1399.9" y="1970.28" width="45.2" height="17.1" fill="#eaee3e" stroke="#000" stroke-width="3.2"/>
<text transform="translate(1422.3,1986.08) scale(1,1.045)" font-size="20.5" fill="#000" text-anchor="middle" font-weight="normal" >2</text>
<text transform="translate(1462.3,1985.28) scale(1,1.045)" font-size="23" fill="#000" text-anchor="middle" font-weight="normal" >+</text>
<text transform="translate(1559,1985.28) scale(1,1.045)" font-size="23" fill="#000" text-anchor="middle" font-weight="normal" >+</text>
<text transform="translate(1656,1985.28) scale(1,1.045)" font-size="23" fill="#000" text-anchor="middle" font-weight="normal" >+</text>
<text transform="translate(1751,1985.28) scale(1,1.045)" font-size="25" fill="#000" text-anchor="middle" font-weight="normal" >-</text>
<rect x="1399.9" y="2007.76" width="45.2" height="17.1" fill="#5eff1a" stroke="#000" stroke-width="3.2"/>
<text transform="translate(1422.3,2023.56) scale(1,1.045)" font-size="20.5" fill="#000" text-anchor="middle" font-weight="normal" >3</text>
<text transform="translate(1462.3,2022.76) scale(1,1.045)" font-size="23" fill="#000" text-anchor="middle" font-weight="normal" >+</text>
<text transform="translate(1559,2022.76) scale(1,1.045)" font-size="23" fill="#000" text-anchor="middle" font-weight="normal" >+</text>
<text transform="translate(1654,2022.76) scale(1,1.045)" font-size="25" fill="#000" text-anchor="middle" font-weight="normal" >-</text>
<text transform="translate(1753,2022.76) scale(1,1.045)" font-size="23" fill="#000" text-anchor="middle" font-weight="normal" >+</text>
<rect x="1399.9" y="2045.24" width="45.2" height="17.1" fill="#72ffd4" stroke="#000" stroke-width="3.2"/>
<text transform="translate(1422.3,2061.04) scale(1,1.045)" font-size="20.5" fill="#000" text-anchor="middle" font-weight="normal" >4</text>
<text transform="translate(1462.3,2060.24) scale(1,1.045)" font-size="23" fill="#000" text-anchor="middle" font-weight="normal" >+</text>
<text transform="translate(1559,2060.24) scale(1,1.045)" font-size="23" fill="#000" text-anchor="middle" font-weight="normal" >+</text>
<text transform="translate(1654,2060.24) scale(1,1.045)" font-size="25" fill="#000" text-anchor="middle" font-weight="normal" >-</text>
<text transform="translate(1751,2060.24) scale(1,1.045)" font-size="25" fill="#000" text-anchor="middle" font-weight="normal" >-</text>
<rect x="1399.9" y="2082.72" width="45.2" height="17.1" fill="#4a88ff" stroke="#000" stroke-width="3.2"/>
<text transform="translate(1422.3,2098.52) scale(1,1.045)" font-size="20.5" fill="#000" text-anchor="middle" font-weight="normal" >5</text>
<text transform="translate(1462.3,2097.72) scale(1,1.045)" font-size="23" fill="#000" text-anchor="middle" font-weight="normal" >+</text>
<text transform="translate(1557,2097.72) scale(1,1.045)" font-size="25" fill="#000" text-anchor="middle" font-weight="normal" >-</text>
<text transform="translate(1656,2097.72) scale(1,1.045)" font-size="23" fill="#000" text-anchor="middle" font-weight="normal" >+</text>
<text transform="translate(1753,2097.72) scale(1,1.045)" font-size="23" fill="#000" text-anchor="middle" font-weight="normal" >+</text>
<rect x="1399.9" y="2120.2" width="45.2" height="17.1" fill="#9a40ff" stroke="#000" stroke-width="3.2"/>
<text transform="translate(1422.3,2136) scale(1,1.045)" font-size="20.5" fill="#000" text-anchor="middle" font-weight="normal" >6</text>
<text transform="translate(1462.3,2135.2) scale(1,1.045)" font-size="23" fill="#000" text-anchor="middle" font-weight="normal" >+</text>
<text transform="translate(1557,2135.2) scale(1,1.045)" font-size="25" fill="#000" text-anchor="middle" font-weight="normal" >-</text>
<text transform="translate(1656,2135.2) scale(1,1.045)" font-size="23" fill="#000" text-anchor="middle" font-weight="normal" >+</text>
<text transform="translate(1751,2135.2) scale(1,1.045)" font-size="25" fill="#000" text-anchor="middle" font-weight="normal" >-</text>
<rect x="1399.9" y="2157.68" width="45.2" height="17.1" fill="#ee44aa" stroke="#000" stroke-width="3.2"/>
<text transform="translate(1422.3,2173.48) scale(1,1.045)" font-size="20.5" fill="#000" text-anchor="middle" font-weight="normal" >7</text>
<text transform="translate(1462.3,2172.68) scale(1,1.045)" font-size="23" fill="#000" text-anchor="middle" font-weight="normal" >+</text>
<text transform="translate(1557,2172.68) scale(1,1.045)" font-size="25" fill="#000" text-anchor="middle" font-weight="normal" >-</text>
<text transform="translate(1654,2172.68) scale(1,1.045)" font-size="25" fill="#000" text-anchor="middle" font-weight="normal" >-</text>
<text transform="translate(1753,2172.68) scale(1,1.045)" font-size="23" fill="#000" text-anchor="middle" font-weight="normal" >+</text>
<rect x="1399.9" y="2195.16" width="45.2" height="17.1" fill="#e06e30" stroke="#000" stroke-width="3.2"/>
<text transform="translate(1422.3,2210.96) scale(1,1.045)" font-size="20.5" fill="#000" text-anchor="middle" font-weight="normal" >8</text>
<text transform="translate(1462.3,2210.16) scale(1,1.045)" font-size="23" fill="#000" text-anchor="middle" font-weight="normal" >+</text>
<text transform="translate(1557,2210.16) scale(1,1.045)" font-size="25" fill="#000" text-anchor="middle" font-weight="normal" >-</text>
<text transform="translate(1654,2210.16) scale(1,1.045)" font-size="25" fill="#000" text-anchor="middle" font-weight="normal" >-</text>
<text transform="translate(1751,2210.16) scale(1,1.045)" font-size="25" fill="#000" text-anchor="middle" font-weight="normal" >-</text>
<rect x="1399.9" y="2232.64" width="45.2" height="17.1" fill="#80fff0" stroke="#000" stroke-width="3.2"/>
<text transform="translate(1422.3,2248.44) scale(1,1.045)" font-size="20.5" fill="#000" text-anchor="middle" font-weight="normal" >9</text>
<text transform="translate(1460.3,2247.64) scale(1,1.045)" font-size="25" fill="#000" text-anchor="middle" font-weight="normal" >-</text>
<text transform="translate(1559,2247.64) scale(1,1.045)" font-size="23" fill="#000" text-anchor="middle" font-weight="normal" >+</text>
<text transform="translate(1656,2247.64) scale(1,1.045)" font-size="23" fill="#000" text-anchor="middle" font-weight="normal" >+</text>
<text transform="translate(1753,2247.64) scale(1,1.045)" font-size="23" fill="#000" text-anchor="middle" font-weight="normal" >+</text>
<rect x="1399.9" y="2270.12" width="45.2" height="17.1" fill="#6ae6ff" stroke="#000" stroke-width="3.2"/>
<text transform="translate(1422.3,2285.92) scale(1,1.045)" font-size="20.5" fill="#000" text-anchor="middle" font-weight="normal" >10</text>
<text transform="translate(1460.3,2285.12) scale(1,1.045)" font-size="25" fill="#000" text-anchor="middle" font-weight="normal" >-</text>
<text transform="translate(1559,2285.12) scale(1,1.045)" font-size="23" fill="#000" text-anchor="middle" font-weight="normal" >+</text>
<text transform="translate(1656,2285.12) scale(1,1.045)" font-size="23" fill="#000" text-anchor="middle" font-weight="normal" >+</text>
<text transform="translate(1751,2285.12) scale(1,1.045)" font-size="25" fill="#000" text-anchor="middle" font-weight="normal" >-</text>
<rect x="1399.9" y="2307.6" width="45.2" height="17.1" fill="#4a88ff" stroke="#000" stroke-width="3.2"/>
<text transform="translate(1422.3,2323.4) scale(1,1.045)" font-size="20.5" fill="#000" text-anchor="middle" font-weight="normal" >11</text>
<text transform="translate(1460.3,2322.6) scale(1,1.045)" font-size="25" fill="#000" text-anchor="middle" font-weight="normal" >-</text>
<text transform="translate(1559,2322.6) scale(1,1.045)" font-size="23" fill="#000" text-anchor="middle" font-weight="normal" >+</text>
<text transform="translate(1654,2322.6) scale(1,1.045)" font-size="25" fill="#000" text-anchor="middle" font-weight="normal" >-</text>
<text transform="translate(1753,2322.6) scale(1,1.045)" font-size="23" fill="#000" text-anchor="middle" font-weight="normal" >+</text>
<rect x="1399.9" y="2345.08" width="45.2" height="17.1" fill="#301cff" stroke="#000" stroke-width="3.2"/>
<text transform="translate(1422.3,2360.88) scale(1,1.045)" font-size="20.5" fill="#000" text-anchor="middle" font-weight="normal" >12</text>
<text transform="translate(1460.3,2360.08) scale(1,1.045)" font-size="25" fill="#000" text-anchor="middle" font-weight="normal" >-</text>
<text transform="translate(1559,2360.08) scale(1,1.045)" font-size="23" fill="#000" text-anchor="middle" font-weight="normal" >+</text>
<text transform="translate(1654,2360.08) scale(1,1.045)" font-size="25" fill="#000" text-anchor="middle" font-weight="normal" >-</text>
<text transform="translate(1751,2360.08) scale(1,1.045)" font-size="25" fill="#000" text-anchor="middle" font-weight="normal" >-</text>
<rect x="1399.9" y="2382.56" width="45.2" height="17.1" fill="#7030ff" stroke="#000" stroke-width="3.2"/>
<text transform="translate(1422.3,2398.36) scale(1,1.045)" font-size="20.5" fill="#000" text-anchor="middle" font-weight="normal" >13</text>
<text transform="translate(1460.3,2397.56) scale(1,1.045)" font-size="25" fill="#000" text-anchor="middle" font-weight="normal" >-</text>
<text transform="translate(1557,2397.56) scale(1,1.045)" font-size="25" fill="#000" text-anchor="middle" font-weight="normal" >-</text>
<text transform="translate(1656,2397.56) scale(1,1.045)" font-size="23" fill="#000" text-anchor="middle" font-weight="normal" >+</text>
<text transform="translate(1753,2397.56) scale(1,1.045)" font-size="23" fill="#000" text-anchor="middle" font-weight="normal" >+</text>
<rect x="1399.9" y="2420.04" width="45.2" height="17.1" fill="#d040ff" stroke="#000" stroke-width="3.2"/>
<text transform="translate(1422.3,2435.84) scale(1,1.045)" font-size="20.5" fill="#000" text-anchor="middle" font-weight="normal" >14</text>
<text transform="translate(1460.3,2435.04) scale(1,1.045)" font-size="25" fill="#000" text-anchor="middle" font-weight="normal" >-</text>
<text transform="translate(1557,2435.04) scale(1,1.045)" font-size="25" fill="#000" text-anchor="middle" font-weight="normal" >-</text>
<text transform="translate(1656,2435.04) scale(1,1.045)" font-size="23" fill="#000" text-anchor="middle" font-weight="normal" >+</text>
<text transform="translate(1751,2435.04) scale(1,1.045)" font-size="25" fill="#000" text-anchor="middle" font-weight="normal" >-</text>
<rect x="1399.9" y="2457.52" width="45.2" height="17.1" fill="#ff44ee" stroke="#000" stroke-width="3.2"/>
<text transform="translate(1422.3,2473.32) scale(1,1.045)" font-size="20.5" fill="#000" text-anchor="middle" font-weight="normal" >15</text>
<text transform="translate(1460.3,2472.52) scale(1,1.045)" font-size="25" fill="#000" text-anchor="middle" font-weight="normal" >-</text>
<text transform="translate(1557,2472.52) scale(1,1.045)" font-size="25" fill="#000" text-anchor="middle" font-weight="normal" >-</text>
<text transform="translate(1654,2472.52) scale(1,1.045)" font-size="25" fill="#000" text-anchor="middle" font-weight="normal" >-</text>
<text transform="translate(1753,2472.52) scale(1,1.045)" font-size="23" fill="#000" text-anchor="middle" font-weight="normal" >+</text>
</svg></body></html>
